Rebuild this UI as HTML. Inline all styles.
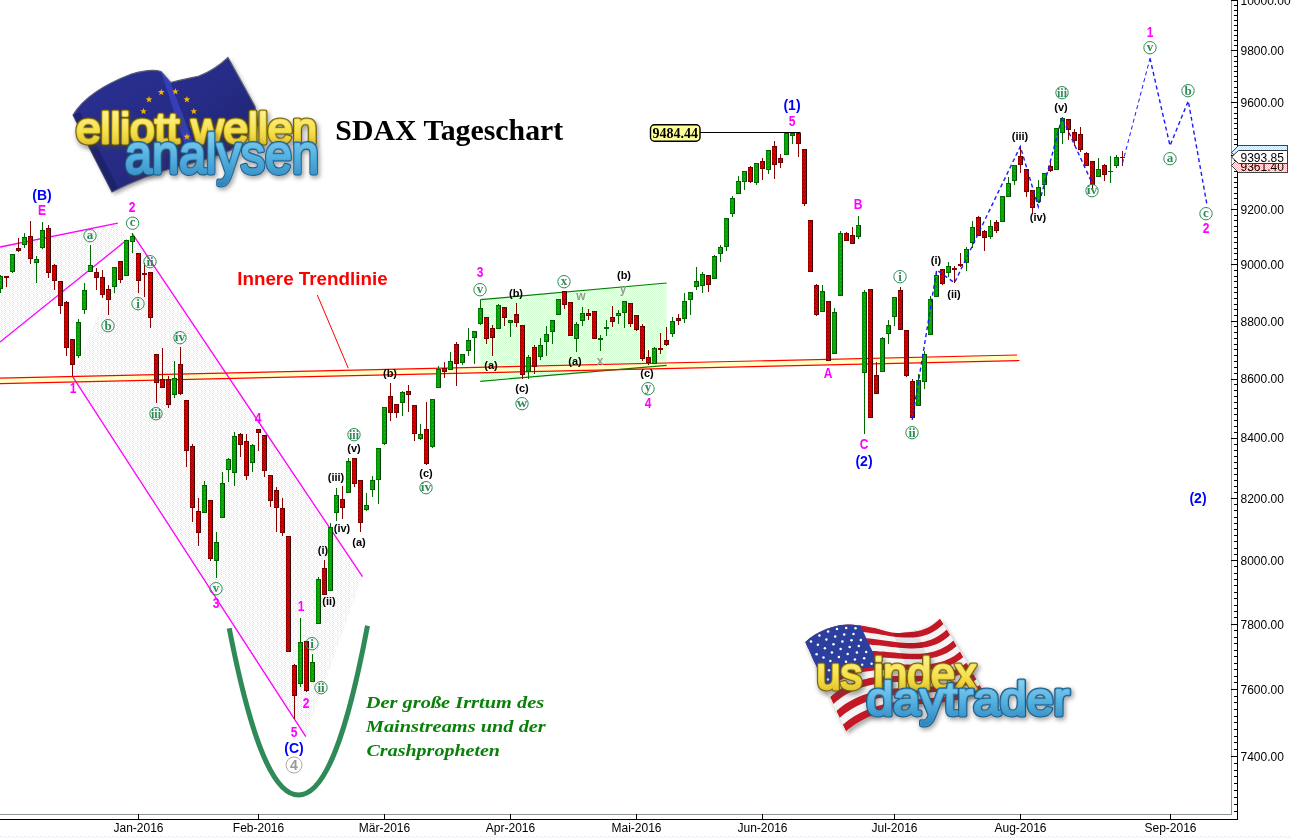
<!DOCTYPE html><html><head><meta charset="utf-8"><title>SDAX Tageschart</title><style>html,body{margin:0;padding:0;background:#fff;}body{width:1291px;height:839px;overflow:hidden;}svg{display:block;}text{font-family:"Liberation Sans",sans-serif;}.ser{font-family:"Liberation Serif",serif;}</style></head><body>
<svg width="1291" height="839" viewBox="0 0 1291 839">
<defs>
<pattern id="pk" width="8" height="8" patternUnits="userSpaceOnUse" shape-rendering="crispEdges"><rect width="8" height="8" fill="#fff"/><rect x="1" y="0" width="1" height="1" fill="#ffd8ff"/><rect x="5" y="0" width="1" height="1" fill="#ffd8ff"/><rect x="2" y="1" width="1" height="1" fill="#ffd8ff"/><rect x="4" y="1" width="1" height="1" fill="#ffd8ff"/><rect x="7" y="1" width="1" height="1" fill="#ffd8ff"/><rect x="1" y="2" width="1" height="1" fill="#ffd8ff"/><rect x="5" y="2" width="1" height="1" fill="#ffd8ff"/><rect x="0" y="3" width="1" height="1" fill="#ffd8ff"/><rect x="3" y="3" width="1" height="1" fill="#ffd8ff"/><rect x="7" y="3" width="1" height="1" fill="#ffd8ff"/><rect x="1" y="4" width="1" height="1" fill="#ffd8ff"/><rect x="5" y="4" width="1" height="1" fill="#ffd8ff"/><rect x="2" y="5" width="1" height="1" fill="#ffd8ff"/><rect x="4" y="5" width="1" height="1" fill="#ffd8ff"/><rect x="7" y="5" width="1" height="1" fill="#ffd8ff"/><rect x="1" y="6" width="1" height="1" fill="#ffd8ff"/><rect x="5" y="6" width="1" height="1" fill="#ffd8ff"/><rect x="2" y="7" width="1" height="1" fill="#ffd8ff"/><rect x="6" y="7" width="1" height="1" fill="#ffd8ff"/></pattern>
<pattern id="gr" width="2" height="2" patternUnits="userSpaceOnUse" shape-rendering="crispEdges"><rect width="2" height="2" fill="#fff"/><rect x="0" y="0" width="1" height="1" fill="#d2ffd2"/><rect x="1" y="1" width="1" height="1" fill="#d2ffd2"/></pattern>
<pattern id="yl" width="2" height="2" patternUnits="userSpaceOnUse" shape-rendering="crispEdges"><rect width="2" height="2" fill="#fff"/><rect x="0" y="0" width="1" height="1" fill="#ffffc0"/><rect x="1" y="1" width="1" height="1" fill="#ffffc0"/></pattern>
<pattern id="bl" width="2" height="2" patternUnits="userSpaceOnUse" shape-rendering="crispEdges"><rect width="2" height="2" fill="#fff"/><rect x="0" y="0" width="1" height="1" fill="#c0e0ff"/><rect x="1" y="1" width="1" height="1" fill="#c0e0ff"/></pattern>
<pattern id="rd" width="2" height="2" patternUnits="userSpaceOnUse" shape-rendering="crispEdges"><rect width="2" height="2" fill="#fff"/><rect x="0" y="0" width="1" height="1" fill="#ffb0b0"/><rect x="1" y="1" width="1" height="1" fill="#ffb0b0"/></pattern>
<pattern id="cr" width="4" height="4" patternUnits="userSpaceOnUse"><rect width="4" height="4" fill="#dc0000"/><rect x="0" y="0" width="1" height="1" fill="#8c0000"/><rect x="2" y="1" width="1" height="1" fill="#8c0000"/><rect x="1" y="2" width="1" height="1" fill="#8c0000"/><rect x="3" y="3" width="1" height="1" fill="#8c0000"/></pattern>
<pattern id="cg" width="4" height="4" patternUnits="userSpaceOnUse"><rect width="4" height="4" fill="#00a800"/><rect x="0" y="0" width="1" height="1" fill="#2cb82c"/><rect x="2" y="2" width="1" height="1" fill="#2cb82c"/></pattern>
<pattern id="bt" width="4" height="4" patternUnits="userSpaceOnUse" shape-rendering="crispEdges"><rect width="4" height="4" fill="#fff"/><rect x="0" y="0" width="1" height="1" fill="#d8e0f0"/><rect x="2" y="1" width="1" height="1" fill="#d8e0f0"/></pattern>
<linearGradient id="euf" x1="0" y1="0" x2="1" y2="1"><stop offset="0" stop-color="#2b3194"/><stop offset="0.5" stop-color="#262b86"/><stop offset="1" stop-color="#1d2168"/></linearGradient>
<linearGradient id="ylw" x1="0" y1="0" x2="0" y2="1"><stop offset="0" stop-color="#fff7a8"/><stop offset="0.55" stop-color="#f6e14e"/><stop offset="1" stop-color="#d9b820"/></linearGradient>
<linearGradient id="blu" x1="0" y1="0" x2="0" y2="1"><stop offset="0" stop-color="#9fdcf4"/><stop offset="0.55" stop-color="#56b2e0"/><stop offset="1" stop-color="#2f86bd"/></linearGradient>
<filter id="sh" x="-10%" y="-10%" width="125%" height="130%"><feGaussianBlur stdDeviation="2"/></filter>
<clipPath id="usclip"><path id="usp" d="M805,642 C818,630 840,622 860,624.5 C878,627 888,634 900,633 C918,631 930,624 940,618.5 L962,653.5 L983,690.5 C965,700 945,704 925,704 C905,704 895,708 883,711.5 C868,716 855,724 846,731.5 L825,688 Z"/></clipPath>
</defs>
<rect width="1291" height="839" fill="#fff"/>
<polygon points="0,247 117.8,223.2 127,239.8 0,342" fill="url(#pk)"/>
<polygon points="132,233.2 362.5,576.7 305.8,736.7 72.5,376.3" fill="url(#pk)"/>
<polygon points="480.3,299.7 666.7,283 666.7,365.3 480.3,381.3" fill="url(#gr)"/>
<polygon points="0,378.2 1017,355 1019.5,360.5 0,383.7" fill="url(#yl)"/>
<g shape-rendering="crispEdges">
<rect x="0" y="814" width="1232" height="1" fill="#909a90"/><rect x="1231" y="0" width="1" height="815" fill="#909a90"/>
<rect x="0" y="819" width="1238" height="1" fill="#000"/><rect x="1237" y="0" width="1" height="820" fill="#000"/>
<rect x="1234" y="811" width="3" height="1" fill="#000"/>
<rect x="1234" y="804" width="3" height="1" fill="#000"/>
<rect x="1234" y="797" width="3" height="1" fill="#000"/>
<rect x="1234" y="790" width="3" height="1" fill="#000"/>
<rect x="1234" y="783" width="3" height="1" fill="#000"/>
<rect x="1234" y="776" width="3" height="1" fill="#000"/>
<rect x="1234" y="770" width="3" height="1" fill="#000"/>
<rect x="1234" y="763" width="3" height="1" fill="#000"/>
<rect x="1231" y="756" width="6" height="1" fill="#000"/>
<rect x="1234" y="749" width="3" height="1" fill="#000"/>
<rect x="1234" y="742" width="3" height="1" fill="#000"/>
<rect x="1234" y="736" width="3" height="1" fill="#000"/>
<rect x="1234" y="729" width="3" height="1" fill="#000"/>
<rect x="1234" y="722" width="3" height="1" fill="#000"/>
<rect x="1234" y="716" width="3" height="1" fill="#000"/>
<rect x="1234" y="709" width="3" height="1" fill="#000"/>
<rect x="1234" y="702" width="3" height="1" fill="#000"/>
<rect x="1234" y="696" width="3" height="1" fill="#000"/>
<rect x="1231" y="689" width="6" height="1" fill="#000"/>
<rect x="1234" y="682" width="3" height="1" fill="#000"/>
<rect x="1234" y="676" width="3" height="1" fill="#000"/>
<rect x="1234" y="669" width="3" height="1" fill="#000"/>
<rect x="1234" y="663" width="3" height="1" fill="#000"/>
<rect x="1234" y="656" width="3" height="1" fill="#000"/>
<rect x="1234" y="650" width="3" height="1" fill="#000"/>
<rect x="1234" y="643" width="3" height="1" fill="#000"/>
<rect x="1234" y="637" width="3" height="1" fill="#000"/>
<rect x="1234" y="630" width="3" height="1" fill="#000"/>
<rect x="1231" y="624" width="6" height="1" fill="#000"/>
<rect x="1234" y="617" width="3" height="1" fill="#000"/>
<rect x="1234" y="611" width="3" height="1" fill="#000"/>
<rect x="1234" y="605" width="3" height="1" fill="#000"/>
<rect x="1234" y="598" width="3" height="1" fill="#000"/>
<rect x="1234" y="592" width="3" height="1" fill="#000"/>
<rect x="1234" y="585" width="3" height="1" fill="#000"/>
<rect x="1234" y="579" width="3" height="1" fill="#000"/>
<rect x="1234" y="573" width="3" height="1" fill="#000"/>
<rect x="1234" y="566" width="3" height="1" fill="#000"/>
<rect x="1231" y="560" width="6" height="1" fill="#000"/>
<rect x="1234" y="554" width="3" height="1" fill="#000"/>
<rect x="1234" y="548" width="3" height="1" fill="#000"/>
<rect x="1234" y="541" width="3" height="1" fill="#000"/>
<rect x="1234" y="535" width="3" height="1" fill="#000"/>
<rect x="1234" y="529" width="3" height="1" fill="#000"/>
<rect x="1234" y="523" width="3" height="1" fill="#000"/>
<rect x="1234" y="517" width="3" height="1" fill="#000"/>
<rect x="1234" y="510" width="3" height="1" fill="#000"/>
<rect x="1234" y="504" width="3" height="1" fill="#000"/>
<rect x="1231" y="498" width="6" height="1" fill="#000"/>
<rect x="1234" y="492" width="3" height="1" fill="#000"/>
<rect x="1234" y="486" width="3" height="1" fill="#000"/>
<rect x="1234" y="480" width="3" height="1" fill="#000"/>
<rect x="1234" y="474" width="3" height="1" fill="#000"/>
<rect x="1234" y="468" width="3" height="1" fill="#000"/>
<rect x="1234" y="462" width="3" height="1" fill="#000"/>
<rect x="1234" y="456" width="3" height="1" fill="#000"/>
<rect x="1234" y="450" width="3" height="1" fill="#000"/>
<rect x="1234" y="444" width="3" height="1" fill="#000"/>
<rect x="1231" y="438" width="6" height="1" fill="#000"/>
<rect x="1234" y="432" width="3" height="1" fill="#000"/>
<rect x="1234" y="426" width="3" height="1" fill="#000"/>
<rect x="1234" y="420" width="3" height="1" fill="#000"/>
<rect x="1234" y="414" width="3" height="1" fill="#000"/>
<rect x="1234" y="408" width="3" height="1" fill="#000"/>
<rect x="1234" y="402" width="3" height="1" fill="#000"/>
<rect x="1234" y="396" width="3" height="1" fill="#000"/>
<rect x="1234" y="390" width="3" height="1" fill="#000"/>
<rect x="1234" y="384" width="3" height="1" fill="#000"/>
<rect x="1231" y="379" width="6" height="1" fill="#000"/>
<rect x="1234" y="373" width="3" height="1" fill="#000"/>
<rect x="1234" y="367" width="3" height="1" fill="#000"/>
<rect x="1234" y="361" width="3" height="1" fill="#000"/>
<rect x="1234" y="355" width="3" height="1" fill="#000"/>
<rect x="1234" y="349" width="3" height="1" fill="#000"/>
<rect x="1234" y="344" width="3" height="1" fill="#000"/>
<rect x="1234" y="338" width="3" height="1" fill="#000"/>
<rect x="1234" y="332" width="3" height="1" fill="#000"/>
<rect x="1234" y="326" width="3" height="1" fill="#000"/>
<rect x="1231" y="321" width="6" height="1" fill="#000"/>
<rect x="1234" y="315" width="3" height="1" fill="#000"/>
<rect x="1234" y="309" width="3" height="1" fill="#000"/>
<rect x="1234" y="304" width="3" height="1" fill="#000"/>
<rect x="1234" y="298" width="3" height="1" fill="#000"/>
<rect x="1234" y="292" width="3" height="1" fill="#000"/>
<rect x="1234" y="287" width="3" height="1" fill="#000"/>
<rect x="1234" y="281" width="3" height="1" fill="#000"/>
<rect x="1234" y="276" width="3" height="1" fill="#000"/>
<rect x="1234" y="270" width="3" height="1" fill="#000"/>
<rect x="1231" y="264" width="6" height="1" fill="#000"/>
<rect x="1234" y="259" width="3" height="1" fill="#000"/>
<rect x="1234" y="253" width="3" height="1" fill="#000"/>
<rect x="1234" y="248" width="3" height="1" fill="#000"/>
<rect x="1234" y="242" width="3" height="1" fill="#000"/>
<rect x="1234" y="237" width="3" height="1" fill="#000"/>
<rect x="1234" y="231" width="3" height="1" fill="#000"/>
<rect x="1234" y="226" width="3" height="1" fill="#000"/>
<rect x="1234" y="220" width="3" height="1" fill="#000"/>
<rect x="1234" y="215" width="3" height="1" fill="#000"/>
<rect x="1231" y="209" width="6" height="1" fill="#000"/>
<rect x="1234" y="204" width="3" height="1" fill="#000"/>
<rect x="1234" y="198" width="3" height="1" fill="#000"/>
<rect x="1234" y="193" width="3" height="1" fill="#000"/>
<rect x="1234" y="187" width="3" height="1" fill="#000"/>
<rect x="1234" y="182" width="3" height="1" fill="#000"/>
<rect x="1234" y="177" width="3" height="1" fill="#000"/>
<rect x="1234" y="171" width="3" height="1" fill="#000"/>
<rect x="1234" y="166" width="3" height="1" fill="#000"/>
<rect x="1234" y="160" width="3" height="1" fill="#000"/>
<rect x="1231" y="155" width="6" height="1" fill="#000"/>
<rect x="1234" y="150" width="3" height="1" fill="#000"/>
<rect x="1234" y="144" width="3" height="1" fill="#000"/>
<rect x="1234" y="139" width="3" height="1" fill="#000"/>
<rect x="1234" y="134" width="3" height="1" fill="#000"/>
<rect x="1234" y="128" width="3" height="1" fill="#000"/>
<rect x="1234" y="123" width="3" height="1" fill="#000"/>
<rect x="1234" y="118" width="3" height="1" fill="#000"/>
<rect x="1234" y="113" width="3" height="1" fill="#000"/>
<rect x="1234" y="107" width="3" height="1" fill="#000"/>
<rect x="1231" y="102" width="6" height="1" fill="#000"/>
<rect x="1234" y="97" width="3" height="1" fill="#000"/>
<rect x="1234" y="92" width="3" height="1" fill="#000"/>
<rect x="1234" y="87" width="3" height="1" fill="#000"/>
<rect x="1234" y="81" width="3" height="1" fill="#000"/>
<rect x="1234" y="76" width="3" height="1" fill="#000"/>
<rect x="1234" y="71" width="3" height="1" fill="#000"/>
<rect x="1234" y="66" width="3" height="1" fill="#000"/>
<rect x="1234" y="61" width="3" height="1" fill="#000"/>
<rect x="1234" y="56" width="3" height="1" fill="#000"/>
<rect x="1231" y="50" width="6" height="1" fill="#000"/>
<rect x="1234" y="45" width="3" height="1" fill="#000"/>
<rect x="1234" y="40" width="3" height="1" fill="#000"/>
<rect x="1234" y="35" width="3" height="1" fill="#000"/>
<rect x="1234" y="30" width="3" height="1" fill="#000"/>
<rect x="1234" y="25" width="3" height="1" fill="#000"/>
<rect x="1234" y="20" width="3" height="1" fill="#000"/>
<rect x="1234" y="15" width="3" height="1" fill="#000"/>
<rect x="1234" y="10" width="3" height="1" fill="#000"/>
<rect x="1234" y="5" width="3" height="1" fill="#000"/>
<rect x="1231" y="0" width="6" height="1" fill="#000"/>
<rect x="138" y="814" width="1" height="6" fill="#000"/>
<rect x="258" y="814" width="1" height="6" fill="#000"/>
<rect x="384" y="814" width="1" height="6" fill="#000"/>
<rect x="510" y="814" width="1" height="6" fill="#000"/>
<rect x="636" y="814" width="1" height="6" fill="#000"/>
<rect x="762" y="814" width="1" height="6" fill="#000"/>
<rect x="894" y="814" width="1" height="6" fill="#000"/>
<rect x="1020" y="814" width="1" height="6" fill="#000"/>
<rect x="1170" y="814" width="1" height="6" fill="#000"/>
</g>
<text x="1240.5" y="760.8" font-size="12" fill="#000">7400.00</text>
<text x="1240.5" y="693.8" font-size="12" fill="#000">7600.00</text>
<text x="1240.5" y="628.6" font-size="12" fill="#000">7800.00</text>
<text x="1240.5" y="565.0" font-size="12" fill="#000">8000.00</text>
<text x="1240.5" y="503.0" font-size="12" fill="#000">8200.00</text>
<text x="1240.5" y="442.4" font-size="12" fill="#000">8400.00</text>
<text x="1240.5" y="383.3" font-size="12" fill="#000">8600.00</text>
<text x="1240.5" y="325.6" font-size="12" fill="#000">8800.00</text>
<text x="1240.5" y="269.1" font-size="12" fill="#000">9000.00</text>
<text x="1240.5" y="213.9" font-size="12" fill="#000">9200.00</text>
<text x="1240.5" y="107.0" font-size="12" fill="#000">9600.00</text>
<text x="1240.5" y="55.2" font-size="12" fill="#000">9800.00</text>
<text x="1240.5" y="4.5" font-size="12" fill="#000">10000.00</text>
<text x="138.5" y="832" font-size="12" text-anchor="middle" fill="#000">Jan-2016</text>
<text x="258.5" y="832" font-size="12" text-anchor="middle" fill="#000">Feb-2016</text>
<text x="384.5" y="832" font-size="12" text-anchor="middle" fill="#000">Mär-2016</text>
<text x="510.5" y="832" font-size="12" text-anchor="middle" fill="#000">Apr-2016</text>
<text x="636.5" y="832" font-size="12" text-anchor="middle" fill="#000">Mai-2016</text>
<text x="762.5" y="832" font-size="12" text-anchor="middle" fill="#000">Jun-2016</text>
<text x="894.5" y="832" font-size="12" text-anchor="middle" fill="#000">Jul-2016</text>
<text x="1020.5" y="832" font-size="12" text-anchor="middle" fill="#000">Aug-2016</text>
<text x="1170.5" y="832" font-size="12" text-anchor="middle" fill="#000">Sep-2016</text>
<rect x="0" y="836" width="1291" height="3" fill="url(#bt)"/>
<g fill="none" stroke="#ff00ff" stroke-width="1.3">
<line x1="0" y1="247" x2="117.8" y2="223.2"/><line x1="0" y1="342" x2="127" y2="239.8"/>
<line x1="132" y1="233.2" x2="362.5" y2="576.7"/><line x1="72.5" y1="376.3" x2="305.8" y2="736.7"/>
</g>
<g fill="none" stroke="#008000" stroke-width="1.2"><line x1="480.3" y1="299.7" x2="666.7" y2="283"/><line x1="480.3" y1="381.3" x2="666.7" y2="365.3"/></g>
<g fill="none" stroke="#ff0000" stroke-width="1.2"><line x1="0" y1="378.2" x2="1017" y2="355"/><line x1="0" y1="383.7" x2="1019.5" y2="360.5"/><line x1="317.3" y1="295" x2="348.3" y2="368.3" stroke-width="1"/></g>
<line x1="700" y1="132.5" x2="800.5" y2="132.5" stroke="#000" stroke-width="1"/>
<g shape-rendering="crispEdges">
<rect x="0" y="275" width="1" height="18" fill="#006a00"/>
<rect x="0" y="276" width="3" height="13" fill="url(#cg)"/>
<rect x="2" y="276" width="1" height="13" fill="#003c00"/>
<rect x="0" y="276" width="3" height="1" fill="#006200"/>
<rect x="0" y="288" width="3" height="1" fill="#006200"/>
<rect x="6" y="276" width="1" height="11" fill="#8a0000"/>
<rect x="4" y="276" width="5" height="2" fill="url(#cr)"/>
<rect x="4" y="276" width="5" height="2" fill="#8a0000"/>
<rect x="12" y="254" width="1" height="19" fill="#006a00"/>
<rect x="10" y="254" width="5" height="18" fill="url(#cg)"/>
<rect x="10" y="254" width="1" height="18" fill="#008a00"/>
<rect x="14" y="254" width="1" height="18" fill="#003c00"/>
<rect x="10" y="254" width="5" height="1" fill="#006200"/>
<rect x="10" y="271" width="5" height="1" fill="#006200"/>
<rect x="18" y="238" width="1" height="14" fill="#8a0000"/>
<rect x="16" y="248" width="5" height="3" fill="url(#cr)"/>
<rect x="16" y="248" width="1" height="3" fill="#a00000"/>
<rect x="20" y="248" width="1" height="3" fill="#3c0000"/>
<rect x="16" y="248" width="5" height="1" fill="#6a0000"/>
<rect x="16" y="250" width="5" height="1" fill="#6a0000"/>
<rect x="24" y="233" width="1" height="15" fill="#006a00"/>
<rect x="22" y="237" width="5" height="8" fill="url(#cg)"/>
<rect x="22" y="237" width="1" height="8" fill="#008a00"/>
<rect x="26" y="237" width="1" height="8" fill="#003c00"/>
<rect x="22" y="237" width="5" height="1" fill="#006200"/>
<rect x="22" y="244" width="5" height="1" fill="#006200"/>
<rect x="30" y="221" width="1" height="43" fill="#8a0000"/>
<rect x="28" y="236" width="5" height="23" fill="url(#cr)"/>
<rect x="28" y="236" width="1" height="23" fill="#a00000"/>
<rect x="32" y="236" width="1" height="23" fill="#3c0000"/>
<rect x="28" y="236" width="5" height="1" fill="#6a0000"/>
<rect x="28" y="258" width="5" height="1" fill="#6a0000"/>
<rect x="36" y="256" width="1" height="27" fill="#006a00"/>
<rect x="34" y="259" width="5" height="4" fill="url(#cg)"/>
<rect x="34" y="259" width="1" height="4" fill="#008a00"/>
<rect x="38" y="259" width="1" height="4" fill="#003c00"/>
<rect x="34" y="259" width="5" height="1" fill="#006200"/>
<rect x="34" y="262" width="5" height="1" fill="#006200"/>
<rect x="42" y="222" width="1" height="27" fill="#006a00"/>
<rect x="40" y="230" width="5" height="18" fill="url(#cg)"/>
<rect x="40" y="230" width="1" height="18" fill="#008a00"/>
<rect x="44" y="230" width="1" height="18" fill="#003c00"/>
<rect x="40" y="230" width="5" height="1" fill="#006200"/>
<rect x="40" y="247" width="5" height="1" fill="#006200"/>
<rect x="48" y="225" width="1" height="53" fill="#8a0000"/>
<rect x="46" y="228" width="5" height="45" fill="url(#cr)"/>
<rect x="46" y="228" width="1" height="45" fill="#a00000"/>
<rect x="50" y="228" width="1" height="45" fill="#3c0000"/>
<rect x="46" y="228" width="5" height="1" fill="#6a0000"/>
<rect x="46" y="272" width="5" height="1" fill="#6a0000"/>
<rect x="54" y="264" width="1" height="26" fill="#8a0000"/>
<rect x="52" y="265" width="5" height="16" fill="url(#cr)"/>
<rect x="52" y="265" width="1" height="16" fill="#a00000"/>
<rect x="56" y="265" width="1" height="16" fill="#3c0000"/>
<rect x="52" y="265" width="5" height="1" fill="#6a0000"/>
<rect x="52" y="280" width="5" height="1" fill="#6a0000"/>
<rect x="60" y="281" width="1" height="33" fill="#8a0000"/>
<rect x="58" y="281" width="5" height="25" fill="url(#cr)"/>
<rect x="58" y="281" width="1" height="25" fill="#a00000"/>
<rect x="62" y="281" width="1" height="25" fill="#3c0000"/>
<rect x="58" y="281" width="5" height="1" fill="#6a0000"/>
<rect x="58" y="305" width="5" height="1" fill="#6a0000"/>
<rect x="66" y="301" width="1" height="55" fill="#8a0000"/>
<rect x="64" y="302" width="5" height="46" fill="url(#cr)"/>
<rect x="64" y="302" width="1" height="46" fill="#a00000"/>
<rect x="68" y="302" width="1" height="46" fill="#3c0000"/>
<rect x="64" y="302" width="5" height="1" fill="#6a0000"/>
<rect x="64" y="347" width="5" height="1" fill="#6a0000"/>
<rect x="72" y="339" width="1" height="37" fill="#8a0000"/>
<rect x="70" y="339" width="5" height="26" fill="url(#cr)"/>
<rect x="70" y="339" width="1" height="26" fill="#a00000"/>
<rect x="74" y="339" width="1" height="26" fill="#3c0000"/>
<rect x="70" y="339" width="5" height="1" fill="#6a0000"/>
<rect x="70" y="364" width="5" height="1" fill="#6a0000"/>
<rect x="78" y="319" width="1" height="39" fill="#006a00"/>
<rect x="76" y="322" width="5" height="34" fill="url(#cg)"/>
<rect x="76" y="322" width="1" height="34" fill="#008a00"/>
<rect x="80" y="322" width="1" height="34" fill="#003c00"/>
<rect x="76" y="322" width="5" height="1" fill="#006200"/>
<rect x="76" y="355" width="5" height="1" fill="#006200"/>
<rect x="84" y="283" width="1" height="31" fill="#006a00"/>
<rect x="82" y="290" width="5" height="20" fill="url(#cg)"/>
<rect x="82" y="290" width="1" height="20" fill="#008a00"/>
<rect x="86" y="290" width="1" height="20" fill="#003c00"/>
<rect x="82" y="290" width="5" height="1" fill="#006200"/>
<rect x="82" y="309" width="5" height="1" fill="#006200"/>
<rect x="90" y="245" width="1" height="27" fill="#006a00"/>
<rect x="88" y="265" width="5" height="7" fill="url(#cg)"/>
<rect x="88" y="265" width="1" height="7" fill="#008a00"/>
<rect x="92" y="265" width="1" height="7" fill="#003c00"/>
<rect x="88" y="265" width="5" height="1" fill="#006200"/>
<rect x="88" y="271" width="5" height="1" fill="#006200"/>
<rect x="96" y="268" width="1" height="22" fill="#8a0000"/>
<rect x="94" y="272" width="5" height="6" fill="url(#cr)"/>
<rect x="94" y="272" width="1" height="6" fill="#a00000"/>
<rect x="98" y="272" width="1" height="6" fill="#3c0000"/>
<rect x="94" y="272" width="5" height="1" fill="#6a0000"/>
<rect x="94" y="277" width="5" height="1" fill="#6a0000"/>
<rect x="102" y="270" width="1" height="28" fill="#8a0000"/>
<rect x="100" y="277" width="5" height="18" fill="url(#cr)"/>
<rect x="100" y="277" width="1" height="18" fill="#a00000"/>
<rect x="104" y="277" width="1" height="18" fill="#3c0000"/>
<rect x="100" y="277" width="5" height="1" fill="#6a0000"/>
<rect x="100" y="294" width="5" height="1" fill="#6a0000"/>
<rect x="108" y="285" width="1" height="30" fill="#8a0000"/>
<rect x="106" y="289" width="5" height="11" fill="url(#cr)"/>
<rect x="106" y="289" width="1" height="11" fill="#a00000"/>
<rect x="110" y="289" width="1" height="11" fill="#3c0000"/>
<rect x="106" y="289" width="5" height="1" fill="#6a0000"/>
<rect x="106" y="299" width="5" height="1" fill="#6a0000"/>
<rect x="114" y="267" width="1" height="26" fill="#006a00"/>
<rect x="112" y="267" width="5" height="20" fill="url(#cg)"/>
<rect x="112" y="267" width="1" height="20" fill="#008a00"/>
<rect x="116" y="267" width="1" height="20" fill="#003c00"/>
<rect x="112" y="267" width="5" height="1" fill="#006200"/>
<rect x="112" y="286" width="5" height="1" fill="#006200"/>
<rect x="120" y="261" width="1" height="22" fill="#8a0000"/>
<rect x="118" y="261" width="5" height="19" fill="url(#cr)"/>
<rect x="118" y="261" width="1" height="19" fill="#a00000"/>
<rect x="122" y="261" width="1" height="19" fill="#3c0000"/>
<rect x="118" y="261" width="5" height="1" fill="#6a0000"/>
<rect x="118" y="279" width="5" height="1" fill="#6a0000"/>
<rect x="126" y="240" width="1" height="36" fill="#006a00"/>
<rect x="124" y="240" width="5" height="36" fill="url(#cg)"/>
<rect x="124" y="240" width="1" height="36" fill="#008a00"/>
<rect x="128" y="240" width="1" height="36" fill="#003c00"/>
<rect x="124" y="240" width="5" height="1" fill="#006200"/>
<rect x="124" y="275" width="5" height="1" fill="#006200"/>
<rect x="132" y="233" width="1" height="20" fill="#006a00"/>
<rect x="130" y="236" width="5" height="6" fill="url(#cg)"/>
<rect x="130" y="236" width="1" height="6" fill="#008a00"/>
<rect x="134" y="236" width="1" height="6" fill="#003c00"/>
<rect x="130" y="236" width="5" height="1" fill="#006200"/>
<rect x="130" y="241" width="5" height="1" fill="#006200"/>
<rect x="138" y="253" width="1" height="40" fill="#8a0000"/>
<rect x="136" y="253" width="5" height="28" fill="url(#cr)"/>
<rect x="136" y="253" width="1" height="28" fill="#a00000"/>
<rect x="140" y="253" width="1" height="28" fill="#3c0000"/>
<rect x="136" y="253" width="5" height="1" fill="#6a0000"/>
<rect x="136" y="280" width="5" height="1" fill="#6a0000"/>
<rect x="144" y="263" width="1" height="34" fill="#8a0000"/>
<rect x="142" y="273" width="5" height="2" fill="url(#cr)"/>
<rect x="142" y="273" width="5" height="2" fill="#8a0000"/>
<rect x="150" y="272" width="1" height="56" fill="#8a0000"/>
<rect x="148" y="272" width="5" height="46" fill="url(#cr)"/>
<rect x="148" y="272" width="1" height="46" fill="#a00000"/>
<rect x="152" y="272" width="1" height="46" fill="#3c0000"/>
<rect x="148" y="272" width="5" height="1" fill="#6a0000"/>
<rect x="148" y="317" width="5" height="1" fill="#6a0000"/>
<rect x="156" y="354" width="1" height="49" fill="#8a0000"/>
<rect x="154" y="354" width="5" height="29" fill="url(#cr)"/>
<rect x="154" y="354" width="1" height="29" fill="#a00000"/>
<rect x="158" y="354" width="1" height="29" fill="#3c0000"/>
<rect x="154" y="354" width="5" height="1" fill="#6a0000"/>
<rect x="154" y="382" width="5" height="1" fill="#6a0000"/>
<rect x="162" y="348" width="1" height="40" fill="#8a0000"/>
<rect x="160" y="379" width="5" height="9" fill="url(#cr)"/>
<rect x="160" y="379" width="1" height="9" fill="#a00000"/>
<rect x="164" y="379" width="1" height="9" fill="#3c0000"/>
<rect x="160" y="379" width="5" height="1" fill="#6a0000"/>
<rect x="160" y="387" width="5" height="1" fill="#6a0000"/>
<rect x="168" y="376" width="1" height="32" fill="#8a0000"/>
<rect x="166" y="379" width="5" height="26" fill="url(#cr)"/>
<rect x="166" y="379" width="1" height="26" fill="#a00000"/>
<rect x="170" y="379" width="1" height="26" fill="#3c0000"/>
<rect x="166" y="379" width="5" height="1" fill="#6a0000"/>
<rect x="166" y="404" width="5" height="1" fill="#6a0000"/>
<rect x="174" y="361" width="1" height="37" fill="#006a00"/>
<rect x="172" y="378" width="5" height="17" fill="url(#cg)"/>
<rect x="172" y="378" width="1" height="17" fill="#008a00"/>
<rect x="176" y="378" width="1" height="17" fill="#003c00"/>
<rect x="172" y="378" width="5" height="1" fill="#006200"/>
<rect x="172" y="394" width="5" height="1" fill="#006200"/>
<rect x="180" y="347" width="1" height="48" fill="#8a0000"/>
<rect x="178" y="364" width="5" height="30" fill="url(#cr)"/>
<rect x="178" y="364" width="1" height="30" fill="#a00000"/>
<rect x="182" y="364" width="1" height="30" fill="#3c0000"/>
<rect x="178" y="364" width="5" height="1" fill="#6a0000"/>
<rect x="178" y="393" width="5" height="1" fill="#6a0000"/>
<rect x="186" y="400" width="1" height="67" fill="#8a0000"/>
<rect x="184" y="400" width="5" height="51" fill="url(#cr)"/>
<rect x="184" y="400" width="1" height="51" fill="#a00000"/>
<rect x="188" y="400" width="1" height="51" fill="#3c0000"/>
<rect x="184" y="400" width="5" height="1" fill="#6a0000"/>
<rect x="184" y="450" width="5" height="1" fill="#6a0000"/>
<rect x="192" y="444" width="1" height="78" fill="#8a0000"/>
<rect x="190" y="446" width="5" height="62" fill="url(#cr)"/>
<rect x="190" y="446" width="1" height="62" fill="#a00000"/>
<rect x="194" y="446" width="1" height="62" fill="#3c0000"/>
<rect x="190" y="446" width="5" height="1" fill="#6a0000"/>
<rect x="190" y="507" width="5" height="1" fill="#6a0000"/>
<rect x="198" y="498" width="1" height="48" fill="#8a0000"/>
<rect x="196" y="511" width="5" height="22" fill="url(#cr)"/>
<rect x="196" y="511" width="1" height="22" fill="#a00000"/>
<rect x="200" y="511" width="1" height="22" fill="#3c0000"/>
<rect x="196" y="511" width="5" height="1" fill="#6a0000"/>
<rect x="196" y="532" width="5" height="1" fill="#6a0000"/>
<rect x="204" y="481" width="1" height="32" fill="#006a00"/>
<rect x="202" y="485" width="5" height="28" fill="url(#cg)"/>
<rect x="202" y="485" width="1" height="28" fill="#008a00"/>
<rect x="206" y="485" width="1" height="28" fill="#003c00"/>
<rect x="202" y="485" width="5" height="1" fill="#006200"/>
<rect x="202" y="512" width="5" height="1" fill="#006200"/>
<rect x="210" y="500" width="1" height="61" fill="#8a0000"/>
<rect x="208" y="500" width="5" height="59" fill="url(#cr)"/>
<rect x="208" y="500" width="1" height="59" fill="#a00000"/>
<rect x="212" y="500" width="1" height="59" fill="#3c0000"/>
<rect x="208" y="500" width="5" height="1" fill="#6a0000"/>
<rect x="208" y="558" width="5" height="1" fill="#6a0000"/>
<rect x="216" y="532" width="1" height="46" fill="#006a00"/>
<rect x="214" y="542" width="5" height="19" fill="url(#cg)"/>
<rect x="214" y="542" width="1" height="19" fill="#008a00"/>
<rect x="218" y="542" width="1" height="19" fill="#003c00"/>
<rect x="214" y="542" width="5" height="1" fill="#006200"/>
<rect x="214" y="560" width="5" height="1" fill="#006200"/>
<rect x="222" y="472" width="1" height="46" fill="#006a00"/>
<rect x="220" y="483" width="5" height="35" fill="url(#cg)"/>
<rect x="220" y="483" width="1" height="35" fill="#008a00"/>
<rect x="224" y="483" width="1" height="35" fill="#003c00"/>
<rect x="220" y="483" width="5" height="1" fill="#006200"/>
<rect x="220" y="517" width="5" height="1" fill="#006200"/>
<rect x="228" y="458" width="1" height="24" fill="#006a00"/>
<rect x="226" y="459" width="5" height="11" fill="url(#cg)"/>
<rect x="226" y="459" width="1" height="11" fill="#008a00"/>
<rect x="230" y="459" width="1" height="11" fill="#003c00"/>
<rect x="226" y="459" width="5" height="1" fill="#006200"/>
<rect x="226" y="469" width="5" height="1" fill="#006200"/>
<rect x="234" y="432" width="1" height="54" fill="#006a00"/>
<rect x="232" y="436" width="5" height="37" fill="url(#cg)"/>
<rect x="232" y="436" width="1" height="37" fill="#008a00"/>
<rect x="236" y="436" width="1" height="37" fill="#003c00"/>
<rect x="232" y="436" width="5" height="1" fill="#006200"/>
<rect x="232" y="472" width="5" height="1" fill="#006200"/>
<rect x="240" y="433" width="1" height="24" fill="#8a0000"/>
<rect x="238" y="434" width="5" height="11" fill="url(#cr)"/>
<rect x="238" y="434" width="1" height="11" fill="#a00000"/>
<rect x="242" y="434" width="1" height="11" fill="#3c0000"/>
<rect x="238" y="434" width="5" height="1" fill="#6a0000"/>
<rect x="238" y="444" width="5" height="1" fill="#6a0000"/>
<rect x="246" y="434" width="1" height="46" fill="#8a0000"/>
<rect x="244" y="441" width="5" height="35" fill="url(#cr)"/>
<rect x="244" y="441" width="1" height="35" fill="#a00000"/>
<rect x="248" y="441" width="1" height="35" fill="#3c0000"/>
<rect x="244" y="441" width="5" height="1" fill="#6a0000"/>
<rect x="244" y="475" width="5" height="1" fill="#6a0000"/>
<rect x="252" y="444" width="1" height="28" fill="#006a00"/>
<rect x="250" y="445" width="5" height="18" fill="url(#cg)"/>
<rect x="250" y="445" width="1" height="18" fill="#008a00"/>
<rect x="254" y="445" width="1" height="18" fill="#003c00"/>
<rect x="250" y="445" width="5" height="1" fill="#006200"/>
<rect x="250" y="462" width="5" height="1" fill="#006200"/>
<rect x="258" y="429" width="1" height="22" fill="#8a0000"/>
<rect x="256" y="429" width="5" height="4" fill="url(#cr)"/>
<rect x="256" y="429" width="1" height="4" fill="#a00000"/>
<rect x="260" y="429" width="1" height="4" fill="#3c0000"/>
<rect x="256" y="429" width="5" height="1" fill="#6a0000"/>
<rect x="256" y="432" width="5" height="1" fill="#6a0000"/>
<rect x="264" y="435" width="1" height="42" fill="#8a0000"/>
<rect x="262" y="435" width="5" height="36" fill="url(#cr)"/>
<rect x="262" y="435" width="1" height="36" fill="#a00000"/>
<rect x="266" y="435" width="1" height="36" fill="#3c0000"/>
<rect x="262" y="435" width="5" height="1" fill="#6a0000"/>
<rect x="262" y="470" width="5" height="1" fill="#6a0000"/>
<rect x="270" y="475" width="1" height="32" fill="#8a0000"/>
<rect x="268" y="475" width="5" height="26" fill="url(#cr)"/>
<rect x="268" y="475" width="1" height="26" fill="#a00000"/>
<rect x="272" y="475" width="1" height="26" fill="#3c0000"/>
<rect x="268" y="475" width="5" height="1" fill="#6a0000"/>
<rect x="268" y="500" width="5" height="1" fill="#6a0000"/>
<rect x="276" y="487" width="1" height="45" fill="#8a0000"/>
<rect x="274" y="490" width="5" height="18" fill="url(#cr)"/>
<rect x="274" y="490" width="1" height="18" fill="#a00000"/>
<rect x="278" y="490" width="1" height="18" fill="#3c0000"/>
<rect x="274" y="490" width="5" height="1" fill="#6a0000"/>
<rect x="274" y="507" width="5" height="1" fill="#6a0000"/>
<rect x="282" y="498" width="1" height="38" fill="#8a0000"/>
<rect x="280" y="508" width="5" height="25" fill="url(#cr)"/>
<rect x="280" y="508" width="1" height="25" fill="#a00000"/>
<rect x="284" y="508" width="1" height="25" fill="#3c0000"/>
<rect x="280" y="508" width="5" height="1" fill="#6a0000"/>
<rect x="280" y="532" width="5" height="1" fill="#6a0000"/>
<rect x="288" y="536" width="1" height="116" fill="#8a0000"/>
<rect x="286" y="536" width="5" height="116" fill="url(#cr)"/>
<rect x="286" y="536" width="1" height="116" fill="#a00000"/>
<rect x="290" y="536" width="1" height="116" fill="#3c0000"/>
<rect x="286" y="536" width="5" height="1" fill="#6a0000"/>
<rect x="286" y="651" width="5" height="1" fill="#6a0000"/>
<rect x="294" y="664" width="1" height="55" fill="#8a0000"/>
<rect x="292" y="665" width="5" height="31" fill="url(#cr)"/>
<rect x="292" y="665" width="1" height="31" fill="#a00000"/>
<rect x="296" y="665" width="1" height="31" fill="#3c0000"/>
<rect x="292" y="665" width="5" height="1" fill="#6a0000"/>
<rect x="292" y="695" width="5" height="1" fill="#6a0000"/>
<rect x="300" y="618" width="1" height="69" fill="#006a00"/>
<rect x="298" y="642" width="5" height="42" fill="url(#cg)"/>
<rect x="298" y="642" width="1" height="42" fill="#008a00"/>
<rect x="302" y="642" width="1" height="42" fill="#003c00"/>
<rect x="298" y="642" width="5" height="1" fill="#006200"/>
<rect x="298" y="683" width="5" height="1" fill="#006200"/>
<rect x="306" y="641" width="1" height="51" fill="#8a0000"/>
<rect x="304" y="641" width="5" height="50" fill="url(#cr)"/>
<rect x="304" y="641" width="1" height="50" fill="#a00000"/>
<rect x="308" y="641" width="1" height="50" fill="#3c0000"/>
<rect x="304" y="641" width="5" height="1" fill="#6a0000"/>
<rect x="304" y="690" width="5" height="1" fill="#6a0000"/>
<rect x="312" y="654" width="1" height="28" fill="#006a00"/>
<rect x="310" y="662" width="5" height="20" fill="url(#cg)"/>
<rect x="310" y="662" width="1" height="20" fill="#008a00"/>
<rect x="314" y="662" width="1" height="20" fill="#003c00"/>
<rect x="310" y="662" width="5" height="1" fill="#006200"/>
<rect x="310" y="681" width="5" height="1" fill="#006200"/>
<rect x="318" y="577" width="1" height="47" fill="#006a00"/>
<rect x="316" y="579" width="5" height="45" fill="url(#cg)"/>
<rect x="316" y="579" width="1" height="45" fill="#008a00"/>
<rect x="320" y="579" width="1" height="45" fill="#003c00"/>
<rect x="316" y="579" width="5" height="1" fill="#006200"/>
<rect x="316" y="623" width="5" height="1" fill="#006200"/>
<rect x="324" y="560" width="1" height="35" fill="#8a0000"/>
<rect x="322" y="568" width="5" height="27" fill="url(#cr)"/>
<rect x="322" y="568" width="1" height="27" fill="#a00000"/>
<rect x="326" y="568" width="1" height="27" fill="#3c0000"/>
<rect x="322" y="568" width="5" height="1" fill="#6a0000"/>
<rect x="322" y="594" width="5" height="1" fill="#6a0000"/>
<rect x="330" y="523" width="1" height="68" fill="#006a00"/>
<rect x="328" y="527" width="5" height="64" fill="url(#cg)"/>
<rect x="328" y="527" width="1" height="64" fill="#008a00"/>
<rect x="332" y="527" width="1" height="64" fill="#003c00"/>
<rect x="328" y="527" width="5" height="1" fill="#006200"/>
<rect x="328" y="590" width="5" height="1" fill="#006200"/>
<rect x="336" y="488" width="1" height="33" fill="#006a00"/>
<rect x="334" y="495" width="5" height="18" fill="url(#cg)"/>
<rect x="334" y="495" width="1" height="18" fill="#008a00"/>
<rect x="338" y="495" width="1" height="18" fill="#003c00"/>
<rect x="334" y="495" width="5" height="1" fill="#006200"/>
<rect x="334" y="512" width="5" height="1" fill="#006200"/>
<rect x="342" y="486" width="1" height="33" fill="#8a0000"/>
<rect x="340" y="499" width="5" height="9" fill="url(#cr)"/>
<rect x="340" y="499" width="1" height="9" fill="#a00000"/>
<rect x="344" y="499" width="1" height="9" fill="#3c0000"/>
<rect x="340" y="499" width="5" height="1" fill="#6a0000"/>
<rect x="340" y="507" width="5" height="1" fill="#6a0000"/>
<rect x="348" y="458" width="1" height="35" fill="#006a00"/>
<rect x="346" y="461" width="5" height="32" fill="url(#cg)"/>
<rect x="346" y="461" width="1" height="32" fill="#008a00"/>
<rect x="350" y="461" width="1" height="32" fill="#003c00"/>
<rect x="346" y="461" width="5" height="1" fill="#006200"/>
<rect x="346" y="492" width="5" height="1" fill="#006200"/>
<rect x="354" y="458" width="1" height="29" fill="#8a0000"/>
<rect x="352" y="458" width="5" height="26" fill="url(#cr)"/>
<rect x="352" y="458" width="1" height="26" fill="#a00000"/>
<rect x="356" y="458" width="1" height="26" fill="#3c0000"/>
<rect x="352" y="458" width="5" height="1" fill="#6a0000"/>
<rect x="352" y="483" width="5" height="1" fill="#6a0000"/>
<rect x="360" y="480" width="1" height="52" fill="#8a0000"/>
<rect x="358" y="480" width="5" height="43" fill="url(#cr)"/>
<rect x="358" y="480" width="1" height="43" fill="#a00000"/>
<rect x="362" y="480" width="1" height="43" fill="#3c0000"/>
<rect x="358" y="480" width="5" height="1" fill="#6a0000"/>
<rect x="358" y="522" width="5" height="1" fill="#6a0000"/>
<rect x="366" y="493" width="1" height="18" fill="#006a00"/>
<rect x="364" y="505" width="5" height="5" fill="url(#cg)"/>
<rect x="364" y="505" width="1" height="5" fill="#008a00"/>
<rect x="368" y="505" width="1" height="5" fill="#003c00"/>
<rect x="364" y="505" width="5" height="1" fill="#006200"/>
<rect x="364" y="509" width="5" height="1" fill="#006200"/>
<rect x="372" y="476" width="1" height="21" fill="#006a00"/>
<rect x="370" y="480" width="5" height="10" fill="url(#cg)"/>
<rect x="370" y="480" width="1" height="10" fill="#008a00"/>
<rect x="374" y="480" width="1" height="10" fill="#003c00"/>
<rect x="370" y="480" width="5" height="1" fill="#006200"/>
<rect x="370" y="489" width="5" height="1" fill="#006200"/>
<rect x="378" y="448" width="1" height="56" fill="#006a00"/>
<rect x="376" y="448" width="5" height="32" fill="url(#cg)"/>
<rect x="376" y="448" width="1" height="32" fill="#008a00"/>
<rect x="380" y="448" width="1" height="32" fill="#003c00"/>
<rect x="376" y="448" width="5" height="1" fill="#006200"/>
<rect x="376" y="479" width="5" height="1" fill="#006200"/>
<rect x="384" y="407" width="1" height="38" fill="#006a00"/>
<rect x="382" y="407" width="5" height="37" fill="url(#cg)"/>
<rect x="382" y="407" width="1" height="37" fill="#008a00"/>
<rect x="386" y="407" width="1" height="37" fill="#003c00"/>
<rect x="382" y="407" width="5" height="1" fill="#006200"/>
<rect x="382" y="443" width="5" height="1" fill="#006200"/>
<rect x="390" y="383" width="1" height="38" fill="#8a0000"/>
<rect x="388" y="396" width="5" height="17" fill="url(#cr)"/>
<rect x="388" y="396" width="1" height="17" fill="#a00000"/>
<rect x="392" y="396" width="1" height="17" fill="#3c0000"/>
<rect x="388" y="396" width="5" height="1" fill="#6a0000"/>
<rect x="388" y="412" width="5" height="1" fill="#6a0000"/>
<rect x="396" y="404" width="1" height="14" fill="#8a0000"/>
<rect x="394" y="404" width="5" height="9" fill="url(#cr)"/>
<rect x="394" y="404" width="1" height="9" fill="#a00000"/>
<rect x="398" y="404" width="1" height="9" fill="#3c0000"/>
<rect x="394" y="404" width="5" height="1" fill="#6a0000"/>
<rect x="394" y="412" width="5" height="1" fill="#6a0000"/>
<rect x="402" y="391" width="1" height="25" fill="#006a00"/>
<rect x="400" y="392" width="5" height="11" fill="url(#cg)"/>
<rect x="400" y="392" width="1" height="11" fill="#008a00"/>
<rect x="404" y="392" width="1" height="11" fill="#003c00"/>
<rect x="400" y="392" width="5" height="1" fill="#006200"/>
<rect x="400" y="402" width="5" height="1" fill="#006200"/>
<rect x="408" y="385" width="1" height="27" fill="#8a0000"/>
<rect x="406" y="391" width="5" height="4" fill="url(#cr)"/>
<rect x="406" y="391" width="1" height="4" fill="#a00000"/>
<rect x="410" y="391" width="1" height="4" fill="#3c0000"/>
<rect x="406" y="391" width="5" height="1" fill="#6a0000"/>
<rect x="406" y="394" width="5" height="1" fill="#6a0000"/>
<rect x="414" y="405" width="1" height="36" fill="#8a0000"/>
<rect x="412" y="405" width="5" height="29" fill="url(#cr)"/>
<rect x="412" y="405" width="1" height="29" fill="#a00000"/>
<rect x="416" y="405" width="1" height="29" fill="#3c0000"/>
<rect x="412" y="405" width="5" height="1" fill="#6a0000"/>
<rect x="412" y="433" width="5" height="1" fill="#6a0000"/>
<rect x="420" y="424" width="1" height="16" fill="#006a00"/>
<rect x="418" y="434" width="5" height="5" fill="url(#cg)"/>
<rect x="418" y="434" width="1" height="5" fill="#008a00"/>
<rect x="422" y="434" width="1" height="5" fill="#003c00"/>
<rect x="418" y="434" width="5" height="1" fill="#006200"/>
<rect x="418" y="438" width="5" height="1" fill="#006200"/>
<rect x="426" y="402" width="1" height="63" fill="#8a0000"/>
<rect x="424" y="429" width="5" height="35" fill="url(#cr)"/>
<rect x="424" y="429" width="1" height="35" fill="#a00000"/>
<rect x="428" y="429" width="1" height="35" fill="#3c0000"/>
<rect x="424" y="429" width="5" height="1" fill="#6a0000"/>
<rect x="424" y="463" width="5" height="1" fill="#6a0000"/>
<rect x="432" y="399" width="1" height="49" fill="#006a00"/>
<rect x="430" y="399" width="5" height="48" fill="url(#cg)"/>
<rect x="430" y="399" width="1" height="48" fill="#008a00"/>
<rect x="434" y="399" width="1" height="48" fill="#003c00"/>
<rect x="430" y="399" width="5" height="1" fill="#006200"/>
<rect x="430" y="446" width="5" height="1" fill="#006200"/>
<rect x="438" y="366" width="1" height="22" fill="#006a00"/>
<rect x="436" y="369" width="5" height="19" fill="url(#cg)"/>
<rect x="436" y="369" width="1" height="19" fill="#008a00"/>
<rect x="440" y="369" width="1" height="19" fill="#003c00"/>
<rect x="436" y="369" width="5" height="1" fill="#006200"/>
<rect x="436" y="387" width="5" height="1" fill="#006200"/>
<rect x="444" y="362" width="1" height="16" fill="#8a0000"/>
<rect x="442" y="368" width="5" height="4" fill="url(#cr)"/>
<rect x="442" y="368" width="1" height="4" fill="#a00000"/>
<rect x="446" y="368" width="1" height="4" fill="#3c0000"/>
<rect x="442" y="368" width="5" height="1" fill="#6a0000"/>
<rect x="442" y="371" width="5" height="1" fill="#6a0000"/>
<rect x="450" y="352" width="1" height="18" fill="#006a00"/>
<rect x="448" y="361" width="5" height="9" fill="url(#cg)"/>
<rect x="448" y="361" width="1" height="9" fill="#008a00"/>
<rect x="452" y="361" width="1" height="9" fill="#003c00"/>
<rect x="448" y="361" width="5" height="1" fill="#006200"/>
<rect x="448" y="369" width="5" height="1" fill="#006200"/>
<rect x="456" y="342" width="1" height="44" fill="#8a0000"/>
<rect x="454" y="344" width="5" height="20" fill="url(#cr)"/>
<rect x="454" y="344" width="1" height="20" fill="#a00000"/>
<rect x="458" y="344" width="1" height="20" fill="#3c0000"/>
<rect x="454" y="344" width="5" height="1" fill="#6a0000"/>
<rect x="454" y="363" width="5" height="1" fill="#6a0000"/>
<rect x="462" y="354" width="1" height="11" fill="#006a00"/>
<rect x="460" y="354" width="5" height="9" fill="url(#cg)"/>
<rect x="460" y="354" width="1" height="9" fill="#008a00"/>
<rect x="464" y="354" width="1" height="9" fill="#003c00"/>
<rect x="460" y="354" width="5" height="1" fill="#006200"/>
<rect x="460" y="362" width="5" height="1" fill="#006200"/>
<rect x="468" y="328" width="1" height="28" fill="#006a00"/>
<rect x="466" y="340" width="5" height="11" fill="url(#cg)"/>
<rect x="466" y="340" width="1" height="11" fill="#008a00"/>
<rect x="470" y="340" width="1" height="11" fill="#003c00"/>
<rect x="466" y="340" width="5" height="1" fill="#006200"/>
<rect x="466" y="350" width="5" height="1" fill="#006200"/>
<rect x="474" y="331" width="1" height="33" fill="#006a00"/>
<rect x="472" y="331" width="5" height="7" fill="url(#cg)"/>
<rect x="472" y="331" width="1" height="7" fill="#008a00"/>
<rect x="476" y="331" width="1" height="7" fill="#003c00"/>
<rect x="472" y="331" width="5" height="1" fill="#006200"/>
<rect x="472" y="337" width="5" height="1" fill="#006200"/>
<rect x="480" y="300" width="1" height="25" fill="#006a00"/>
<rect x="478" y="308" width="5" height="16" fill="url(#cg)"/>
<rect x="478" y="308" width="1" height="16" fill="#008a00"/>
<rect x="482" y="308" width="1" height="16" fill="#003c00"/>
<rect x="478" y="308" width="5" height="1" fill="#006200"/>
<rect x="478" y="323" width="5" height="1" fill="#006200"/>
<rect x="486" y="317" width="1" height="27" fill="#8a0000"/>
<rect x="484" y="317" width="5" height="22" fill="url(#cr)"/>
<rect x="484" y="317" width="1" height="22" fill="#a00000"/>
<rect x="488" y="317" width="1" height="22" fill="#3c0000"/>
<rect x="484" y="317" width="5" height="1" fill="#6a0000"/>
<rect x="484" y="338" width="5" height="1" fill="#6a0000"/>
<rect x="492" y="325" width="1" height="31" fill="#8a0000"/>
<rect x="490" y="328" width="5" height="10" fill="url(#cr)"/>
<rect x="490" y="328" width="1" height="10" fill="#a00000"/>
<rect x="494" y="328" width="1" height="10" fill="#3c0000"/>
<rect x="490" y="328" width="5" height="1" fill="#6a0000"/>
<rect x="490" y="337" width="5" height="1" fill="#6a0000"/>
<rect x="498" y="304" width="1" height="25" fill="#006a00"/>
<rect x="496" y="305" width="5" height="24" fill="url(#cg)"/>
<rect x="496" y="305" width="1" height="24" fill="#008a00"/>
<rect x="500" y="305" width="1" height="24" fill="#003c00"/>
<rect x="496" y="305" width="5" height="1" fill="#006200"/>
<rect x="496" y="328" width="5" height="1" fill="#006200"/>
<rect x="504" y="307" width="1" height="19" fill="#8a0000"/>
<rect x="502" y="307" width="5" height="11" fill="url(#cr)"/>
<rect x="502" y="307" width="1" height="11" fill="#a00000"/>
<rect x="506" y="307" width="1" height="11" fill="#3c0000"/>
<rect x="502" y="307" width="5" height="1" fill="#6a0000"/>
<rect x="502" y="317" width="5" height="1" fill="#6a0000"/>
<rect x="510" y="320" width="1" height="17" fill="#006a00"/>
<rect x="508" y="320" width="5" height="3" fill="url(#cg)"/>
<rect x="508" y="320" width="1" height="3" fill="#008a00"/>
<rect x="512" y="320" width="1" height="3" fill="#003c00"/>
<rect x="508" y="320" width="5" height="1" fill="#006200"/>
<rect x="508" y="322" width="5" height="1" fill="#006200"/>
<rect x="516" y="303" width="1" height="24" fill="#8a0000"/>
<rect x="514" y="314" width="5" height="9" fill="url(#cr)"/>
<rect x="514" y="314" width="1" height="9" fill="#a00000"/>
<rect x="518" y="314" width="1" height="9" fill="#3c0000"/>
<rect x="514" y="314" width="5" height="1" fill="#6a0000"/>
<rect x="514" y="322" width="5" height="1" fill="#6a0000"/>
<rect x="522" y="325" width="1" height="54" fill="#8a0000"/>
<rect x="520" y="325" width="5" height="50" fill="url(#cr)"/>
<rect x="520" y="325" width="1" height="50" fill="#a00000"/>
<rect x="524" y="325" width="1" height="50" fill="#3c0000"/>
<rect x="520" y="325" width="5" height="1" fill="#6a0000"/>
<rect x="520" y="374" width="5" height="1" fill="#6a0000"/>
<rect x="528" y="355" width="1" height="24" fill="#006a00"/>
<rect x="526" y="357" width="5" height="15" fill="url(#cg)"/>
<rect x="526" y="357" width="1" height="15" fill="#008a00"/>
<rect x="530" y="357" width="1" height="15" fill="#003c00"/>
<rect x="526" y="357" width="5" height="1" fill="#006200"/>
<rect x="526" y="371" width="5" height="1" fill="#006200"/>
<rect x="534" y="345" width="1" height="29" fill="#8a0000"/>
<rect x="532" y="347" width="5" height="20" fill="url(#cr)"/>
<rect x="532" y="347" width="1" height="20" fill="#a00000"/>
<rect x="536" y="347" width="1" height="20" fill="#3c0000"/>
<rect x="532" y="347" width="5" height="1" fill="#6a0000"/>
<rect x="532" y="366" width="5" height="1" fill="#6a0000"/>
<rect x="540" y="338" width="1" height="22" fill="#006a00"/>
<rect x="538" y="345" width="5" height="12" fill="url(#cg)"/>
<rect x="538" y="345" width="1" height="12" fill="#008a00"/>
<rect x="542" y="345" width="1" height="12" fill="#003c00"/>
<rect x="538" y="345" width="5" height="1" fill="#006200"/>
<rect x="538" y="356" width="5" height="1" fill="#006200"/>
<rect x="546" y="326" width="1" height="30" fill="#006a00"/>
<rect x="544" y="334" width="5" height="8" fill="url(#cg)"/>
<rect x="544" y="334" width="1" height="8" fill="#008a00"/>
<rect x="548" y="334" width="1" height="8" fill="#003c00"/>
<rect x="544" y="334" width="5" height="1" fill="#006200"/>
<rect x="544" y="341" width="5" height="1" fill="#006200"/>
<rect x="552" y="320" width="1" height="24" fill="#006a00"/>
<rect x="550" y="320" width="5" height="12" fill="url(#cg)"/>
<rect x="550" y="320" width="1" height="12" fill="#008a00"/>
<rect x="554" y="320" width="1" height="12" fill="#003c00"/>
<rect x="550" y="320" width="5" height="1" fill="#006200"/>
<rect x="550" y="331" width="5" height="1" fill="#006200"/>
<rect x="558" y="299" width="1" height="16" fill="#006a00"/>
<rect x="556" y="299" width="5" height="16" fill="url(#cg)"/>
<rect x="556" y="299" width="1" height="16" fill="#008a00"/>
<rect x="560" y="299" width="1" height="16" fill="#003c00"/>
<rect x="556" y="299" width="5" height="1" fill="#006200"/>
<rect x="556" y="314" width="5" height="1" fill="#006200"/>
<rect x="564" y="291" width="1" height="18" fill="#8a0000"/>
<rect x="562" y="291" width="5" height="14" fill="url(#cr)"/>
<rect x="562" y="291" width="1" height="14" fill="#a00000"/>
<rect x="566" y="291" width="1" height="14" fill="#3c0000"/>
<rect x="562" y="291" width="5" height="1" fill="#6a0000"/>
<rect x="562" y="304" width="5" height="1" fill="#6a0000"/>
<rect x="570" y="302" width="1" height="34" fill="#8a0000"/>
<rect x="568" y="302" width="5" height="34" fill="url(#cr)"/>
<rect x="568" y="302" width="1" height="34" fill="#a00000"/>
<rect x="572" y="302" width="1" height="34" fill="#3c0000"/>
<rect x="568" y="302" width="5" height="1" fill="#6a0000"/>
<rect x="568" y="335" width="5" height="1" fill="#6a0000"/>
<rect x="576" y="322" width="1" height="30" fill="#006a00"/>
<rect x="574" y="324" width="5" height="15" fill="url(#cg)"/>
<rect x="574" y="324" width="1" height="15" fill="#008a00"/>
<rect x="578" y="324" width="1" height="15" fill="#003c00"/>
<rect x="574" y="324" width="5" height="1" fill="#006200"/>
<rect x="574" y="338" width="5" height="1" fill="#006200"/>
<rect x="582" y="307" width="1" height="19" fill="#006a00"/>
<rect x="580" y="313" width="5" height="8" fill="url(#cg)"/>
<rect x="580" y="313" width="1" height="8" fill="#008a00"/>
<rect x="584" y="313" width="1" height="8" fill="#003c00"/>
<rect x="580" y="313" width="5" height="1" fill="#006200"/>
<rect x="580" y="320" width="5" height="1" fill="#006200"/>
<rect x="588" y="309" width="1" height="11" fill="#8a0000"/>
<rect x="586" y="313" width="5" height="3" fill="url(#cr)"/>
<rect x="586" y="313" width="1" height="3" fill="#a00000"/>
<rect x="590" y="313" width="1" height="3" fill="#3c0000"/>
<rect x="586" y="313" width="5" height="1" fill="#6a0000"/>
<rect x="586" y="315" width="5" height="1" fill="#6a0000"/>
<rect x="594" y="311" width="1" height="28" fill="#8a0000"/>
<rect x="592" y="311" width="5" height="28" fill="url(#cr)"/>
<rect x="592" y="311" width="1" height="28" fill="#a00000"/>
<rect x="596" y="311" width="1" height="28" fill="#3c0000"/>
<rect x="592" y="311" width="5" height="1" fill="#6a0000"/>
<rect x="592" y="338" width="5" height="1" fill="#6a0000"/>
<rect x="600" y="335" width="1" height="16" fill="#006a00"/>
<rect x="598" y="338" width="5" height="2" fill="url(#cg)"/>
<rect x="598" y="338" width="5" height="2" fill="#006a00"/>
<rect x="606" y="320" width="1" height="16" fill="#006a00"/>
<rect x="604" y="327" width="5" height="2" fill="url(#cg)"/>
<rect x="604" y="327" width="5" height="2" fill="#006a00"/>
<rect x="612" y="306" width="1" height="21" fill="#8a0000"/>
<rect x="610" y="317" width="5" height="5" fill="url(#cr)"/>
<rect x="610" y="317" width="1" height="5" fill="#a00000"/>
<rect x="614" y="317" width="1" height="5" fill="#3c0000"/>
<rect x="610" y="317" width="5" height="1" fill="#6a0000"/>
<rect x="610" y="321" width="5" height="1" fill="#6a0000"/>
<rect x="618" y="310" width="1" height="14" fill="#006a00"/>
<rect x="616" y="313" width="5" height="3" fill="url(#cg)"/>
<rect x="616" y="313" width="1" height="3" fill="#008a00"/>
<rect x="620" y="313" width="1" height="3" fill="#003c00"/>
<rect x="616" y="313" width="5" height="1" fill="#006200"/>
<rect x="616" y="315" width="5" height="1" fill="#006200"/>
<rect x="624" y="301" width="1" height="27" fill="#006a00"/>
<rect x="622" y="301" width="5" height="12" fill="url(#cg)"/>
<rect x="622" y="301" width="1" height="12" fill="#008a00"/>
<rect x="626" y="301" width="1" height="12" fill="#003c00"/>
<rect x="622" y="301" width="5" height="1" fill="#006200"/>
<rect x="622" y="312" width="5" height="1" fill="#006200"/>
<rect x="630" y="303" width="1" height="24" fill="#8a0000"/>
<rect x="628" y="303" width="5" height="21" fill="url(#cr)"/>
<rect x="628" y="303" width="1" height="21" fill="#a00000"/>
<rect x="632" y="303" width="1" height="21" fill="#3c0000"/>
<rect x="628" y="303" width="5" height="1" fill="#6a0000"/>
<rect x="628" y="323" width="5" height="1" fill="#6a0000"/>
<rect x="636" y="315" width="1" height="16" fill="#8a0000"/>
<rect x="634" y="315" width="5" height="15" fill="url(#cr)"/>
<rect x="634" y="315" width="1" height="15" fill="#a00000"/>
<rect x="638" y="315" width="1" height="15" fill="#3c0000"/>
<rect x="634" y="315" width="5" height="1" fill="#6a0000"/>
<rect x="634" y="329" width="5" height="1" fill="#6a0000"/>
<rect x="642" y="324" width="1" height="37" fill="#8a0000"/>
<rect x="640" y="326" width="5" height="33" fill="url(#cr)"/>
<rect x="640" y="326" width="1" height="33" fill="#a00000"/>
<rect x="644" y="326" width="1" height="33" fill="#3c0000"/>
<rect x="640" y="326" width="5" height="1" fill="#6a0000"/>
<rect x="640" y="358" width="5" height="1" fill="#6a0000"/>
<rect x="648" y="350" width="1" height="15" fill="#8a0000"/>
<rect x="646" y="357" width="5" height="6" fill="url(#cr)"/>
<rect x="646" y="357" width="1" height="6" fill="#a00000"/>
<rect x="650" y="357" width="1" height="6" fill="#3c0000"/>
<rect x="646" y="357" width="5" height="1" fill="#6a0000"/>
<rect x="646" y="362" width="5" height="1" fill="#6a0000"/>
<rect x="654" y="347" width="1" height="17" fill="#006a00"/>
<rect x="652" y="348" width="5" height="16" fill="url(#cg)"/>
<rect x="652" y="348" width="1" height="16" fill="#008a00"/>
<rect x="656" y="348" width="1" height="16" fill="#003c00"/>
<rect x="652" y="348" width="5" height="1" fill="#006200"/>
<rect x="652" y="363" width="5" height="1" fill="#006200"/>
<rect x="660" y="333" width="1" height="21" fill="#8a0000"/>
<rect x="658" y="348" width="5" height="2" fill="url(#cr)"/>
<rect x="658" y="348" width="5" height="2" fill="#8a0000"/>
<rect x="666" y="327" width="1" height="19" fill="#8a0000"/>
<rect x="664" y="340" width="5" height="5" fill="url(#cr)"/>
<rect x="664" y="340" width="1" height="5" fill="#a00000"/>
<rect x="668" y="340" width="1" height="5" fill="#3c0000"/>
<rect x="664" y="340" width="5" height="1" fill="#6a0000"/>
<rect x="664" y="344" width="5" height="1" fill="#6a0000"/>
<rect x="672" y="317" width="1" height="20" fill="#006a00"/>
<rect x="670" y="321" width="5" height="13" fill="url(#cg)"/>
<rect x="670" y="321" width="1" height="13" fill="#008a00"/>
<rect x="674" y="321" width="1" height="13" fill="#003c00"/>
<rect x="670" y="321" width="5" height="1" fill="#006200"/>
<rect x="670" y="333" width="5" height="1" fill="#006200"/>
<rect x="678" y="314" width="1" height="11" fill="#8a0000"/>
<rect x="676" y="318" width="5" height="3" fill="url(#cr)"/>
<rect x="676" y="318" width="1" height="3" fill="#a00000"/>
<rect x="680" y="318" width="1" height="3" fill="#3c0000"/>
<rect x="676" y="318" width="5" height="1" fill="#6a0000"/>
<rect x="676" y="320" width="5" height="1" fill="#6a0000"/>
<rect x="684" y="293" width="1" height="30" fill="#006a00"/>
<rect x="682" y="301" width="5" height="18" fill="url(#cg)"/>
<rect x="682" y="301" width="1" height="18" fill="#008a00"/>
<rect x="686" y="301" width="1" height="18" fill="#003c00"/>
<rect x="682" y="301" width="5" height="1" fill="#006200"/>
<rect x="682" y="318" width="5" height="1" fill="#006200"/>
<rect x="690" y="292" width="1" height="23" fill="#006a00"/>
<rect x="688" y="292" width="5" height="8" fill="url(#cg)"/>
<rect x="688" y="292" width="1" height="8" fill="#008a00"/>
<rect x="692" y="292" width="1" height="8" fill="#003c00"/>
<rect x="688" y="292" width="5" height="1" fill="#006200"/>
<rect x="688" y="299" width="5" height="1" fill="#006200"/>
<rect x="696" y="267" width="1" height="23" fill="#006a00"/>
<rect x="694" y="281" width="5" height="6" fill="url(#cg)"/>
<rect x="694" y="281" width="1" height="6" fill="#008a00"/>
<rect x="698" y="281" width="1" height="6" fill="#003c00"/>
<rect x="694" y="281" width="5" height="1" fill="#006200"/>
<rect x="694" y="286" width="5" height="1" fill="#006200"/>
<rect x="702" y="272" width="1" height="21" fill="#006a00"/>
<rect x="700" y="274" width="5" height="12" fill="url(#cg)"/>
<rect x="700" y="274" width="1" height="12" fill="#008a00"/>
<rect x="704" y="274" width="1" height="12" fill="#003c00"/>
<rect x="700" y="274" width="5" height="1" fill="#006200"/>
<rect x="700" y="285" width="5" height="1" fill="#006200"/>
<rect x="708" y="275" width="1" height="17" fill="#8a0000"/>
<rect x="706" y="275" width="5" height="10" fill="url(#cr)"/>
<rect x="706" y="275" width="1" height="10" fill="#a00000"/>
<rect x="710" y="275" width="1" height="10" fill="#3c0000"/>
<rect x="706" y="275" width="5" height="1" fill="#6a0000"/>
<rect x="706" y="284" width="5" height="1" fill="#6a0000"/>
<rect x="714" y="255" width="1" height="24" fill="#006a00"/>
<rect x="712" y="256" width="5" height="23" fill="url(#cg)"/>
<rect x="712" y="256" width="1" height="23" fill="#008a00"/>
<rect x="716" y="256" width="1" height="23" fill="#003c00"/>
<rect x="712" y="256" width="5" height="1" fill="#006200"/>
<rect x="712" y="278" width="5" height="1" fill="#006200"/>
<rect x="720" y="245" width="1" height="17" fill="#006a00"/>
<rect x="718" y="247" width="5" height="7" fill="url(#cg)"/>
<rect x="718" y="247" width="1" height="7" fill="#008a00"/>
<rect x="722" y="247" width="1" height="7" fill="#003c00"/>
<rect x="718" y="247" width="5" height="1" fill="#006200"/>
<rect x="718" y="253" width="5" height="1" fill="#006200"/>
<rect x="726" y="218" width="1" height="33" fill="#006a00"/>
<rect x="724" y="218" width="5" height="29" fill="url(#cg)"/>
<rect x="724" y="218" width="1" height="29" fill="#008a00"/>
<rect x="728" y="218" width="1" height="29" fill="#003c00"/>
<rect x="724" y="218" width="5" height="1" fill="#006200"/>
<rect x="724" y="246" width="5" height="1" fill="#006200"/>
<rect x="732" y="196" width="1" height="21" fill="#006a00"/>
<rect x="730" y="198" width="5" height="16" fill="url(#cg)"/>
<rect x="730" y="198" width="1" height="16" fill="#008a00"/>
<rect x="734" y="198" width="1" height="16" fill="#003c00"/>
<rect x="730" y="198" width="5" height="1" fill="#006200"/>
<rect x="730" y="213" width="5" height="1" fill="#006200"/>
<rect x="738" y="176" width="1" height="18" fill="#006a00"/>
<rect x="736" y="181" width="5" height="13" fill="url(#cg)"/>
<rect x="736" y="181" width="1" height="13" fill="#008a00"/>
<rect x="740" y="181" width="1" height="13" fill="#003c00"/>
<rect x="736" y="181" width="5" height="1" fill="#006200"/>
<rect x="736" y="193" width="5" height="1" fill="#006200"/>
<rect x="744" y="171" width="1" height="19" fill="#006a00"/>
<rect x="742" y="171" width="5" height="11" fill="url(#cg)"/>
<rect x="742" y="171" width="1" height="11" fill="#008a00"/>
<rect x="746" y="171" width="1" height="11" fill="#003c00"/>
<rect x="742" y="171" width="5" height="1" fill="#006200"/>
<rect x="742" y="181" width="5" height="1" fill="#006200"/>
<rect x="750" y="166" width="1" height="17" fill="#8a0000"/>
<rect x="748" y="167" width="5" height="15" fill="url(#cr)"/>
<rect x="748" y="167" width="1" height="15" fill="#a00000"/>
<rect x="752" y="167" width="1" height="15" fill="#3c0000"/>
<rect x="748" y="167" width="5" height="1" fill="#6a0000"/>
<rect x="748" y="181" width="5" height="1" fill="#6a0000"/>
<rect x="756" y="163" width="1" height="22" fill="#006a00"/>
<rect x="754" y="163" width="5" height="20" fill="url(#cg)"/>
<rect x="754" y="163" width="1" height="20" fill="#008a00"/>
<rect x="758" y="163" width="1" height="20" fill="#003c00"/>
<rect x="754" y="163" width="5" height="1" fill="#006200"/>
<rect x="754" y="182" width="5" height="1" fill="#006200"/>
<rect x="762" y="158" width="1" height="22" fill="#8a0000"/>
<rect x="760" y="161" width="5" height="8" fill="url(#cr)"/>
<rect x="760" y="161" width="1" height="8" fill="#a00000"/>
<rect x="764" y="161" width="1" height="8" fill="#3c0000"/>
<rect x="760" y="161" width="5" height="1" fill="#6a0000"/>
<rect x="760" y="168" width="5" height="1" fill="#6a0000"/>
<rect x="768" y="150" width="1" height="24" fill="#006a00"/>
<rect x="766" y="150" width="5" height="20" fill="url(#cg)"/>
<rect x="766" y="150" width="1" height="20" fill="#008a00"/>
<rect x="770" y="150" width="1" height="20" fill="#003c00"/>
<rect x="766" y="150" width="5" height="1" fill="#006200"/>
<rect x="766" y="169" width="5" height="1" fill="#006200"/>
<rect x="774" y="141" width="1" height="38" fill="#8a0000"/>
<rect x="772" y="146" width="5" height="19" fill="url(#cr)"/>
<rect x="772" y="146" width="1" height="19" fill="#a00000"/>
<rect x="776" y="146" width="1" height="19" fill="#3c0000"/>
<rect x="772" y="146" width="5" height="1" fill="#6a0000"/>
<rect x="772" y="164" width="5" height="1" fill="#6a0000"/>
<rect x="780" y="154" width="1" height="14" fill="#8a0000"/>
<rect x="778" y="158" width="5" height="5" fill="url(#cr)"/>
<rect x="778" y="158" width="1" height="5" fill="#a00000"/>
<rect x="782" y="158" width="1" height="5" fill="#3c0000"/>
<rect x="778" y="158" width="5" height="1" fill="#6a0000"/>
<rect x="778" y="162" width="5" height="1" fill="#6a0000"/>
<rect x="786" y="133" width="1" height="22" fill="#006a00"/>
<rect x="784" y="133" width="5" height="22" fill="url(#cg)"/>
<rect x="784" y="133" width="1" height="22" fill="#008a00"/>
<rect x="788" y="133" width="1" height="22" fill="#003c00"/>
<rect x="784" y="133" width="5" height="1" fill="#006200"/>
<rect x="784" y="154" width="5" height="1" fill="#006200"/>
<rect x="792" y="133" width="1" height="11" fill="#006a00"/>
<rect x="790" y="133" width="5" height="3" fill="url(#cg)"/>
<rect x="790" y="133" width="1" height="3" fill="#008a00"/>
<rect x="794" y="133" width="1" height="3" fill="#003c00"/>
<rect x="790" y="133" width="5" height="1" fill="#006200"/>
<rect x="790" y="135" width="5" height="1" fill="#006200"/>
<rect x="798" y="133" width="1" height="24" fill="#8a0000"/>
<rect x="796" y="133" width="5" height="11" fill="url(#cr)"/>
<rect x="796" y="133" width="1" height="11" fill="#a00000"/>
<rect x="800" y="133" width="1" height="11" fill="#3c0000"/>
<rect x="796" y="133" width="5" height="1" fill="#6a0000"/>
<rect x="796" y="143" width="5" height="1" fill="#6a0000"/>
<rect x="804" y="149" width="1" height="57" fill="#8a0000"/>
<rect x="802" y="149" width="5" height="55" fill="url(#cr)"/>
<rect x="802" y="149" width="1" height="55" fill="#a00000"/>
<rect x="806" y="149" width="1" height="55" fill="#3c0000"/>
<rect x="802" y="149" width="5" height="1" fill="#6a0000"/>
<rect x="802" y="203" width="5" height="1" fill="#6a0000"/>
<rect x="810" y="220" width="1" height="52" fill="#8a0000"/>
<rect x="808" y="220" width="5" height="52" fill="url(#cr)"/>
<rect x="808" y="220" width="1" height="52" fill="#a00000"/>
<rect x="812" y="220" width="1" height="52" fill="#3c0000"/>
<rect x="808" y="220" width="5" height="1" fill="#6a0000"/>
<rect x="808" y="271" width="5" height="1" fill="#6a0000"/>
<rect x="816" y="284" width="1" height="32" fill="#8a0000"/>
<rect x="814" y="285" width="5" height="30" fill="url(#cr)"/>
<rect x="814" y="285" width="1" height="30" fill="#a00000"/>
<rect x="818" y="285" width="1" height="30" fill="#3c0000"/>
<rect x="814" y="285" width="5" height="1" fill="#6a0000"/>
<rect x="814" y="314" width="5" height="1" fill="#6a0000"/>
<rect x="822" y="285" width="1" height="27" fill="#006a00"/>
<rect x="820" y="291" width="5" height="21" fill="url(#cg)"/>
<rect x="820" y="291" width="1" height="21" fill="#008a00"/>
<rect x="824" y="291" width="1" height="21" fill="#003c00"/>
<rect x="820" y="291" width="5" height="1" fill="#006200"/>
<rect x="820" y="311" width="5" height="1" fill="#006200"/>
<rect x="828" y="301" width="1" height="60" fill="#8a0000"/>
<rect x="826" y="301" width="5" height="60" fill="url(#cr)"/>
<rect x="826" y="301" width="1" height="60" fill="#a00000"/>
<rect x="830" y="301" width="1" height="60" fill="#3c0000"/>
<rect x="826" y="301" width="5" height="1" fill="#6a0000"/>
<rect x="826" y="360" width="5" height="1" fill="#6a0000"/>
<rect x="834" y="308" width="1" height="46" fill="#006a00"/>
<rect x="832" y="312" width="5" height="42" fill="url(#cg)"/>
<rect x="832" y="312" width="1" height="42" fill="#008a00"/>
<rect x="836" y="312" width="1" height="42" fill="#003c00"/>
<rect x="832" y="312" width="5" height="1" fill="#006200"/>
<rect x="832" y="353" width="5" height="1" fill="#006200"/>
<rect x="840" y="231" width="1" height="65" fill="#006a00"/>
<rect x="838" y="233" width="5" height="63" fill="url(#cg)"/>
<rect x="838" y="233" width="1" height="63" fill="#008a00"/>
<rect x="842" y="233" width="1" height="63" fill="#003c00"/>
<rect x="838" y="233" width="5" height="1" fill="#006200"/>
<rect x="838" y="295" width="5" height="1" fill="#006200"/>
<rect x="846" y="232" width="1" height="9" fill="#8a0000"/>
<rect x="844" y="233" width="5" height="8" fill="url(#cr)"/>
<rect x="844" y="233" width="1" height="8" fill="#a00000"/>
<rect x="848" y="233" width="1" height="8" fill="#3c0000"/>
<rect x="844" y="233" width="5" height="1" fill="#6a0000"/>
<rect x="844" y="240" width="5" height="1" fill="#6a0000"/>
<rect x="852" y="227" width="1" height="17" fill="#8a0000"/>
<rect x="850" y="235" width="5" height="9" fill="url(#cr)"/>
<rect x="850" y="235" width="1" height="9" fill="#a00000"/>
<rect x="854" y="235" width="1" height="9" fill="#3c0000"/>
<rect x="850" y="235" width="5" height="1" fill="#6a0000"/>
<rect x="850" y="243" width="5" height="1" fill="#6a0000"/>
<rect x="858" y="216" width="1" height="23" fill="#006a00"/>
<rect x="856" y="225" width="5" height="12" fill="url(#cg)"/>
<rect x="856" y="225" width="1" height="12" fill="#008a00"/>
<rect x="860" y="225" width="1" height="12" fill="#003c00"/>
<rect x="856" y="225" width="5" height="1" fill="#006200"/>
<rect x="856" y="236" width="5" height="1" fill="#006200"/>
<rect x="864" y="290" width="1" height="144" fill="#006a00"/>
<rect x="862" y="292" width="5" height="81" fill="url(#cg)"/>
<rect x="862" y="292" width="1" height="81" fill="#008a00"/>
<rect x="866" y="292" width="1" height="81" fill="#003c00"/>
<rect x="862" y="292" width="5" height="1" fill="#006200"/>
<rect x="862" y="372" width="5" height="1" fill="#006200"/>
<rect x="870" y="289" width="1" height="129" fill="#8a0000"/>
<rect x="868" y="289" width="5" height="129" fill="url(#cr)"/>
<rect x="868" y="289" width="1" height="129" fill="#a00000"/>
<rect x="872" y="289" width="1" height="129" fill="#3c0000"/>
<rect x="868" y="289" width="5" height="1" fill="#6a0000"/>
<rect x="868" y="417" width="5" height="1" fill="#6a0000"/>
<rect x="876" y="362" width="1" height="32" fill="#8a0000"/>
<rect x="874" y="375" width="5" height="19" fill="url(#cr)"/>
<rect x="874" y="375" width="1" height="19" fill="#a00000"/>
<rect x="878" y="375" width="1" height="19" fill="#3c0000"/>
<rect x="874" y="375" width="5" height="1" fill="#6a0000"/>
<rect x="874" y="393" width="5" height="1" fill="#6a0000"/>
<rect x="882" y="337" width="1" height="35" fill="#006a00"/>
<rect x="880" y="338" width="5" height="34" fill="url(#cg)"/>
<rect x="880" y="338" width="1" height="34" fill="#008a00"/>
<rect x="884" y="338" width="1" height="34" fill="#003c00"/>
<rect x="880" y="338" width="5" height="1" fill="#006200"/>
<rect x="880" y="371" width="5" height="1" fill="#006200"/>
<rect x="888" y="320" width="1" height="24" fill="#006a00"/>
<rect x="886" y="325" width="5" height="9" fill="url(#cg)"/>
<rect x="886" y="325" width="1" height="9" fill="#008a00"/>
<rect x="890" y="325" width="1" height="9" fill="#003c00"/>
<rect x="886" y="325" width="5" height="1" fill="#006200"/>
<rect x="886" y="333" width="5" height="1" fill="#006200"/>
<rect x="894" y="297" width="1" height="29" fill="#006a00"/>
<rect x="892" y="297" width="5" height="20" fill="url(#cg)"/>
<rect x="892" y="297" width="1" height="20" fill="#008a00"/>
<rect x="896" y="297" width="1" height="20" fill="#003c00"/>
<rect x="892" y="297" width="5" height="1" fill="#006200"/>
<rect x="892" y="316" width="5" height="1" fill="#006200"/>
<rect x="900" y="287" width="1" height="43" fill="#8a0000"/>
<rect x="898" y="290" width="5" height="40" fill="url(#cr)"/>
<rect x="898" y="290" width="1" height="40" fill="#a00000"/>
<rect x="902" y="290" width="1" height="40" fill="#3c0000"/>
<rect x="898" y="290" width="5" height="1" fill="#6a0000"/>
<rect x="898" y="329" width="5" height="1" fill="#6a0000"/>
<rect x="906" y="330" width="1" height="47" fill="#8a0000"/>
<rect x="904" y="330" width="5" height="46" fill="url(#cr)"/>
<rect x="904" y="330" width="1" height="46" fill="#a00000"/>
<rect x="908" y="330" width="1" height="46" fill="#3c0000"/>
<rect x="904" y="330" width="5" height="1" fill="#6a0000"/>
<rect x="904" y="375" width="5" height="1" fill="#6a0000"/>
<rect x="912" y="379" width="1" height="40" fill="#8a0000"/>
<rect x="910" y="381" width="5" height="37" fill="url(#cr)"/>
<rect x="910" y="381" width="1" height="37" fill="#a00000"/>
<rect x="914" y="381" width="1" height="37" fill="#3c0000"/>
<rect x="910" y="381" width="5" height="1" fill="#6a0000"/>
<rect x="910" y="417" width="5" height="1" fill="#6a0000"/>
<rect x="918" y="374" width="1" height="32" fill="#006a00"/>
<rect x="916" y="380" width="5" height="26" fill="url(#cg)"/>
<rect x="916" y="380" width="1" height="26" fill="#008a00"/>
<rect x="920" y="380" width="1" height="26" fill="#003c00"/>
<rect x="916" y="380" width="5" height="1" fill="#006200"/>
<rect x="916" y="405" width="5" height="1" fill="#006200"/>
<rect x="924" y="351" width="1" height="38" fill="#006a00"/>
<rect x="922" y="354" width="5" height="28" fill="url(#cg)"/>
<rect x="922" y="354" width="1" height="28" fill="#008a00"/>
<rect x="926" y="354" width="1" height="28" fill="#003c00"/>
<rect x="922" y="354" width="5" height="1" fill="#006200"/>
<rect x="922" y="381" width="5" height="1" fill="#006200"/>
<rect x="930" y="296" width="1" height="39" fill="#006a00"/>
<rect x="928" y="299" width="5" height="36" fill="url(#cg)"/>
<rect x="928" y="299" width="1" height="36" fill="#008a00"/>
<rect x="932" y="299" width="1" height="36" fill="#003c00"/>
<rect x="928" y="299" width="5" height="1" fill="#006200"/>
<rect x="928" y="334" width="5" height="1" fill="#006200"/>
<rect x="936" y="271" width="1" height="26" fill="#006a00"/>
<rect x="934" y="275" width="5" height="22" fill="url(#cg)"/>
<rect x="934" y="275" width="1" height="22" fill="#008a00"/>
<rect x="938" y="275" width="1" height="22" fill="#003c00"/>
<rect x="934" y="275" width="5" height="1" fill="#006200"/>
<rect x="934" y="296" width="5" height="1" fill="#006200"/>
<rect x="942" y="269" width="1" height="16" fill="#8a0000"/>
<rect x="940" y="269" width="5" height="15" fill="url(#cr)"/>
<rect x="940" y="269" width="1" height="15" fill="#a00000"/>
<rect x="944" y="269" width="1" height="15" fill="#3c0000"/>
<rect x="940" y="269" width="5" height="1" fill="#6a0000"/>
<rect x="940" y="283" width="5" height="1" fill="#6a0000"/>
<rect x="948" y="262" width="1" height="15" fill="#006a00"/>
<rect x="946" y="266" width="5" height="7" fill="url(#cg)"/>
<rect x="946" y="266" width="1" height="7" fill="#008a00"/>
<rect x="950" y="266" width="1" height="7" fill="#003c00"/>
<rect x="946" y="266" width="5" height="1" fill="#006200"/>
<rect x="946" y="272" width="5" height="1" fill="#006200"/>
<rect x="954" y="266" width="1" height="17" fill="#8a0000"/>
<rect x="952" y="268" width="5" height="2" fill="url(#cr)"/>
<rect x="952" y="268" width="5" height="2" fill="#8a0000"/>
<rect x="960" y="253" width="1" height="14" fill="#8a0000"/>
<rect x="958" y="264" width="5" height="2" fill="url(#cr)"/>
<rect x="958" y="264" width="5" height="2" fill="#8a0000"/>
<rect x="966" y="247" width="1" height="24" fill="#006a00"/>
<rect x="964" y="249" width="5" height="14" fill="url(#cg)"/>
<rect x="964" y="249" width="1" height="14" fill="#008a00"/>
<rect x="968" y="249" width="1" height="14" fill="#003c00"/>
<rect x="964" y="249" width="5" height="1" fill="#006200"/>
<rect x="964" y="262" width="5" height="1" fill="#006200"/>
<rect x="972" y="221" width="1" height="27" fill="#006a00"/>
<rect x="970" y="227" width="5" height="16" fill="url(#cg)"/>
<rect x="970" y="227" width="1" height="16" fill="#008a00"/>
<rect x="974" y="227" width="1" height="16" fill="#003c00"/>
<rect x="970" y="227" width="5" height="1" fill="#006200"/>
<rect x="970" y="242" width="5" height="1" fill="#006200"/>
<rect x="978" y="216" width="1" height="20" fill="#8a0000"/>
<rect x="976" y="217" width="5" height="19" fill="url(#cr)"/>
<rect x="976" y="217" width="1" height="19" fill="#a00000"/>
<rect x="980" y="217" width="1" height="19" fill="#3c0000"/>
<rect x="976" y="217" width="5" height="1" fill="#6a0000"/>
<rect x="976" y="235" width="5" height="1" fill="#6a0000"/>
<rect x="984" y="230" width="1" height="21" fill="#8a0000"/>
<rect x="982" y="231" width="5" height="7" fill="url(#cr)"/>
<rect x="982" y="231" width="1" height="7" fill="#a00000"/>
<rect x="986" y="231" width="1" height="7" fill="#3c0000"/>
<rect x="982" y="231" width="5" height="1" fill="#6a0000"/>
<rect x="982" y="237" width="5" height="1" fill="#6a0000"/>
<rect x="990" y="220" width="1" height="19" fill="#006a00"/>
<rect x="988" y="226" width="5" height="11" fill="url(#cg)"/>
<rect x="988" y="226" width="1" height="11" fill="#008a00"/>
<rect x="992" y="226" width="1" height="11" fill="#003c00"/>
<rect x="988" y="226" width="5" height="1" fill="#006200"/>
<rect x="988" y="236" width="5" height="1" fill="#006200"/>
<rect x="996" y="220" width="1" height="13" fill="#8a0000"/>
<rect x="994" y="222" width="5" height="9" fill="url(#cr)"/>
<rect x="994" y="222" width="1" height="9" fill="#a00000"/>
<rect x="998" y="222" width="1" height="9" fill="#3c0000"/>
<rect x="994" y="222" width="5" height="1" fill="#6a0000"/>
<rect x="994" y="230" width="5" height="1" fill="#6a0000"/>
<rect x="1002" y="196" width="1" height="26" fill="#006a00"/>
<rect x="1000" y="196" width="5" height="26" fill="url(#cg)"/>
<rect x="1000" y="196" width="1" height="26" fill="#008a00"/>
<rect x="1004" y="196" width="1" height="26" fill="#003c00"/>
<rect x="1000" y="196" width="5" height="1" fill="#006200"/>
<rect x="1000" y="221" width="5" height="1" fill="#006200"/>
<rect x="1008" y="177" width="1" height="20" fill="#006a00"/>
<rect x="1006" y="183" width="5" height="14" fill="url(#cg)"/>
<rect x="1006" y="183" width="1" height="14" fill="#008a00"/>
<rect x="1010" y="183" width="1" height="14" fill="#003c00"/>
<rect x="1006" y="183" width="5" height="1" fill="#006200"/>
<rect x="1006" y="196" width="5" height="1" fill="#006200"/>
<rect x="1014" y="165" width="1" height="20" fill="#006a00"/>
<rect x="1012" y="165" width="5" height="16" fill="url(#cg)"/>
<rect x="1012" y="165" width="1" height="16" fill="#008a00"/>
<rect x="1016" y="165" width="1" height="16" fill="#003c00"/>
<rect x="1012" y="165" width="5" height="1" fill="#006200"/>
<rect x="1012" y="180" width="5" height="1" fill="#006200"/>
<rect x="1020" y="147" width="1" height="26" fill="#8a0000"/>
<rect x="1018" y="156" width="5" height="9" fill="url(#cr)"/>
<rect x="1018" y="156" width="1" height="9" fill="#a00000"/>
<rect x="1022" y="156" width="1" height="9" fill="#3c0000"/>
<rect x="1018" y="156" width="5" height="1" fill="#6a0000"/>
<rect x="1018" y="164" width="5" height="1" fill="#6a0000"/>
<rect x="1026" y="169" width="1" height="28" fill="#8a0000"/>
<rect x="1024" y="169" width="5" height="23" fill="url(#cr)"/>
<rect x="1024" y="169" width="1" height="23" fill="#a00000"/>
<rect x="1028" y="169" width="1" height="23" fill="#3c0000"/>
<rect x="1024" y="169" width="5" height="1" fill="#6a0000"/>
<rect x="1024" y="191" width="5" height="1" fill="#6a0000"/>
<rect x="1032" y="190" width="1" height="24" fill="#8a0000"/>
<rect x="1030" y="190" width="5" height="18" fill="url(#cr)"/>
<rect x="1030" y="190" width="1" height="18" fill="#a00000"/>
<rect x="1034" y="190" width="1" height="18" fill="#3c0000"/>
<rect x="1030" y="190" width="5" height="1" fill="#6a0000"/>
<rect x="1030" y="207" width="5" height="1" fill="#6a0000"/>
<rect x="1038" y="180" width="1" height="23" fill="#006a00"/>
<rect x="1036" y="187" width="5" height="15" fill="url(#cg)"/>
<rect x="1036" y="187" width="1" height="15" fill="#008a00"/>
<rect x="1040" y="187" width="1" height="15" fill="#003c00"/>
<rect x="1036" y="187" width="5" height="1" fill="#006200"/>
<rect x="1036" y="201" width="5" height="1" fill="#006200"/>
<rect x="1044" y="173" width="1" height="23" fill="#006a00"/>
<rect x="1042" y="173" width="5" height="12" fill="url(#cg)"/>
<rect x="1042" y="173" width="1" height="12" fill="#008a00"/>
<rect x="1046" y="173" width="1" height="12" fill="#003c00"/>
<rect x="1042" y="173" width="5" height="1" fill="#006200"/>
<rect x="1042" y="184" width="5" height="1" fill="#006200"/>
<rect x="1050" y="162" width="1" height="10" fill="#8a0000"/>
<rect x="1048" y="166" width="5" height="5" fill="url(#cr)"/>
<rect x="1048" y="166" width="1" height="5" fill="#a00000"/>
<rect x="1052" y="166" width="1" height="5" fill="#3c0000"/>
<rect x="1048" y="166" width="5" height="1" fill="#6a0000"/>
<rect x="1048" y="170" width="5" height="1" fill="#6a0000"/>
<rect x="1056" y="128" width="1" height="42" fill="#006a00"/>
<rect x="1054" y="128" width="5" height="42" fill="url(#cg)"/>
<rect x="1054" y="128" width="1" height="42" fill="#008a00"/>
<rect x="1058" y="128" width="1" height="42" fill="#003c00"/>
<rect x="1054" y="128" width="5" height="1" fill="#006200"/>
<rect x="1054" y="169" width="5" height="1" fill="#006200"/>
<rect x="1062" y="117" width="1" height="27" fill="#006a00"/>
<rect x="1060" y="118" width="5" height="15" fill="url(#cg)"/>
<rect x="1060" y="118" width="1" height="15" fill="#008a00"/>
<rect x="1064" y="118" width="1" height="15" fill="#003c00"/>
<rect x="1060" y="118" width="5" height="1" fill="#006200"/>
<rect x="1060" y="132" width="5" height="1" fill="#006200"/>
<rect x="1068" y="119" width="1" height="21" fill="#8a0000"/>
<rect x="1066" y="119" width="5" height="11" fill="url(#cr)"/>
<rect x="1066" y="119" width="1" height="11" fill="#a00000"/>
<rect x="1070" y="119" width="1" height="11" fill="#3c0000"/>
<rect x="1066" y="119" width="5" height="1" fill="#6a0000"/>
<rect x="1066" y="129" width="5" height="1" fill="#6a0000"/>
<rect x="1074" y="129" width="1" height="17" fill="#8a0000"/>
<rect x="1072" y="132" width="5" height="9" fill="url(#cr)"/>
<rect x="1072" y="132" width="1" height="9" fill="#a00000"/>
<rect x="1076" y="132" width="1" height="9" fill="#3c0000"/>
<rect x="1072" y="132" width="5" height="1" fill="#6a0000"/>
<rect x="1072" y="140" width="5" height="1" fill="#6a0000"/>
<rect x="1080" y="127" width="1" height="25" fill="#8a0000"/>
<rect x="1078" y="134" width="5" height="16" fill="url(#cr)"/>
<rect x="1078" y="134" width="1" height="16" fill="#a00000"/>
<rect x="1082" y="134" width="1" height="16" fill="#3c0000"/>
<rect x="1078" y="134" width="5" height="1" fill="#6a0000"/>
<rect x="1078" y="149" width="5" height="1" fill="#6a0000"/>
<rect x="1086" y="152" width="1" height="14" fill="#8a0000"/>
<rect x="1084" y="153" width="5" height="13" fill="url(#cr)"/>
<rect x="1084" y="153" width="1" height="13" fill="#a00000"/>
<rect x="1088" y="153" width="1" height="13" fill="#3c0000"/>
<rect x="1084" y="153" width="5" height="1" fill="#6a0000"/>
<rect x="1084" y="165" width="5" height="1" fill="#6a0000"/>
<rect x="1092" y="161" width="1" height="27" fill="#8a0000"/>
<rect x="1090" y="161" width="5" height="24" fill="url(#cr)"/>
<rect x="1090" y="161" width="1" height="24" fill="#a00000"/>
<rect x="1094" y="161" width="1" height="24" fill="#3c0000"/>
<rect x="1090" y="161" width="5" height="1" fill="#6a0000"/>
<rect x="1090" y="184" width="5" height="1" fill="#6a0000"/>
<rect x="1098" y="158" width="1" height="19" fill="#006a00"/>
<rect x="1096" y="169" width="5" height="8" fill="url(#cg)"/>
<rect x="1096" y="169" width="1" height="8" fill="#008a00"/>
<rect x="1100" y="169" width="1" height="8" fill="#003c00"/>
<rect x="1096" y="169" width="5" height="1" fill="#006200"/>
<rect x="1096" y="176" width="5" height="1" fill="#006200"/>
<rect x="1104" y="164" width="1" height="17" fill="#8a0000"/>
<rect x="1102" y="165" width="5" height="10" fill="url(#cr)"/>
<rect x="1102" y="165" width="1" height="10" fill="#a00000"/>
<rect x="1106" y="165" width="1" height="10" fill="#3c0000"/>
<rect x="1102" y="165" width="5" height="1" fill="#6a0000"/>
<rect x="1102" y="174" width="5" height="1" fill="#6a0000"/>
<rect x="1110" y="156" width="1" height="27" fill="#006a00"/>
<rect x="1108" y="171" width="5" height="1" fill="url(#cg)"/>
<rect x="1108" y="171" width="5" height="1" fill="#006a00"/>
<rect x="1116" y="155" width="1" height="13" fill="#006a00"/>
<rect x="1114" y="157" width="5" height="9" fill="url(#cg)"/>
<rect x="1114" y="157" width="1" height="9" fill="#008a00"/>
<rect x="1118" y="157" width="1" height="9" fill="#003c00"/>
<rect x="1114" y="157" width="5" height="1" fill="#006200"/>
<rect x="1114" y="165" width="5" height="1" fill="#006200"/>
<rect x="1122" y="151" width="1" height="15" fill="#8a0000"/>
<rect x="1120" y="157" width="5" height="1" fill="url(#cr)"/>
<rect x="1120" y="157" width="5" height="1" fill="#8a0000"/>
</g>
<g fill="none" stroke="#1a1aff" stroke-width="1.4" stroke-dasharray="4 3">
<polyline points="912.2,420 936.7,270 954.5,282.8 1020.3,146.5 1038.3,206.7 1062,117.5 1092.5,184"/>
</g>
<g fill="none" stroke="#1a1aff" stroke-width="1" stroke-dasharray="4 3"><polyline points="1122.5,163.3 1150,58.3"/></g>
<g fill="none" stroke="#1a1aff" stroke-width="1.4" stroke-dasharray="4 3"><polyline points="1150,58.3 1170,145.7 1188.3,101 1206.7,203.3"/></g>
<path d="M229.2,628.3 C250,735 272,795 298.5,795 C325,795 347,735 367.5,625.8" fill="none" stroke="#2e8b57" stroke-width="5"/>
<text x="42" y="199.5" font-size="14" font-weight="bold" fill="#0000ff" text-anchor="middle">(B)</text>
<text x="294" y="753.0" font-size="14" font-weight="bold" fill="#0000ff" text-anchor="middle">(C)</text>
<text x="792" y="110.0" font-size="14" font-weight="bold" fill="#0000ff" text-anchor="middle">(1)</text>
<text x="864" y="466.0" font-size="14" font-weight="bold" fill="#0000ff" text-anchor="middle">(2)</text>
<text x="1198" y="503.0" font-size="14" font-weight="bold" fill="#0000ff" text-anchor="middle">(2)</text>
<text x="42" y="215.0" font-size="14" font-weight="bold" fill="#ff00ff" text-anchor="middle" textLength="8.0" lengthAdjust="spacingAndGlyphs">E</text>
<text x="132" y="212.0" font-size="14" font-weight="bold" fill="#ff00ff" text-anchor="middle" textLength="6.7" lengthAdjust="spacingAndGlyphs">2</text>
<text x="73" y="393.0" font-size="14" font-weight="bold" fill="#ff00ff" text-anchor="middle" textLength="6.7" lengthAdjust="spacingAndGlyphs">1</text>
<text x="216" y="608.0" font-size="14" font-weight="bold" fill="#ff00ff" text-anchor="middle" textLength="6.7" lengthAdjust="spacingAndGlyphs">3</text>
<text x="258" y="423.0" font-size="14" font-weight="bold" fill="#ff00ff" text-anchor="middle" textLength="6.7" lengthAdjust="spacingAndGlyphs">4</text>
<text x="294" y="737.0" font-size="14" font-weight="bold" fill="#ff00ff" text-anchor="middle" textLength="6.7" lengthAdjust="spacingAndGlyphs">5</text>
<text x="301" y="611.0" font-size="14" font-weight="bold" fill="#ff00ff" text-anchor="middle" textLength="6.7" lengthAdjust="spacingAndGlyphs">1</text>
<text x="306" y="708.0" font-size="14" font-weight="bold" fill="#ff00ff" text-anchor="middle" textLength="6.7" lengthAdjust="spacingAndGlyphs">2</text>
<text x="480" y="277.0" font-size="14" font-weight="bold" fill="#ff00ff" text-anchor="middle" textLength="6.7" lengthAdjust="spacingAndGlyphs">3</text>
<text x="648" y="408.0" font-size="14" font-weight="bold" fill="#ff00ff" text-anchor="middle" textLength="6.7" lengthAdjust="spacingAndGlyphs">4</text>
<text x="792" y="126.0" font-size="14" font-weight="bold" fill="#ff00ff" text-anchor="middle" textLength="6.7" lengthAdjust="spacingAndGlyphs">5</text>
<text x="828" y="378.0" font-size="14" font-weight="bold" fill="#ff00ff" text-anchor="middle" textLength="8.7" lengthAdjust="spacingAndGlyphs">A</text>
<text x="858" y="209.0" font-size="14" font-weight="bold" fill="#ff00ff" text-anchor="middle" textLength="8.7" lengthAdjust="spacingAndGlyphs">B</text>
<text x="864" y="449.0" font-size="14" font-weight="bold" fill="#ff00ff" text-anchor="middle" textLength="8.7" lengthAdjust="spacingAndGlyphs">C</text>
<text x="1150" y="37.0" font-size="14" font-weight="bold" fill="#ff00ff" text-anchor="middle" textLength="6.7" lengthAdjust="spacingAndGlyphs">1</text>
<text x="1206" y="233.0" font-size="14" font-weight="bold" fill="#ff00ff" text-anchor="middle" textLength="6.7" lengthAdjust="spacingAndGlyphs">2</text>
<circle cx="90" cy="235.7" r="6.2" fill="none" stroke="#2e8b57" stroke-width="1"/>
<text class="ser" x="90" y="238.89999999999998" font-size="13" font-weight="bold" fill="#2e8b57" text-anchor="middle">a</text>
<circle cx="132.6" cy="223.2" r="6.2" fill="none" stroke="#2e8b57" stroke-width="1"/>
<text class="ser" x="132.6" y="226.39999999999998" font-size="13" font-weight="bold" fill="#2e8b57" text-anchor="middle">c</text>
<circle cx="108" cy="325.7" r="6.2" fill="none" stroke="#2e8b57" stroke-width="1"/>
<text class="ser" x="108" y="329.9" font-size="13" font-weight="bold" fill="#2e8b57" text-anchor="middle">b</text>
<circle cx="138" cy="303.7" r="6.2" fill="none" stroke="#2e8b57" stroke-width="1"/>
<text class="ser" x="138" y="307.9" font-size="13" font-weight="bold" fill="#2e8b57" text-anchor="middle">i</text>
<circle cx="150" cy="261.7" r="6.2" fill="none" stroke="#2e8b57" stroke-width="1"/>
<text class="ser" x="150" y="265.9" font-size="13" font-weight="bold" fill="#2e8b57" text-anchor="middle">ii</text>
<circle cx="156" cy="413.7" r="6.2" fill="none" stroke="#2e8b57" stroke-width="1"/>
<text class="ser" x="156" y="417.9" font-size="13" font-weight="bold" fill="#2e8b57" text-anchor="middle" textLength="10" lengthAdjust="spacingAndGlyphs">iii</text>
<circle cx="180" cy="337.7" r="6.2" fill="none" stroke="#2e8b57" stroke-width="1"/>
<text class="ser" x="180" y="340.9" font-size="13" font-weight="bold" fill="#2e8b57" text-anchor="middle" textLength="10.5" lengthAdjust="spacingAndGlyphs">iv</text>
<circle cx="216" cy="588.7" r="6.2" fill="none" stroke="#2e8b57" stroke-width="1"/>
<text class="ser" x="216" y="591.9000000000001" font-size="13" font-weight="bold" fill="#2e8b57" text-anchor="middle">v</text>
<circle cx="312" cy="643.7" r="6.2" fill="none" stroke="#2e8b57" stroke-width="1"/>
<text class="ser" x="312" y="647.9000000000001" font-size="13" font-weight="bold" fill="#2e8b57" text-anchor="middle">i</text>
<circle cx="321" cy="687.7" r="6.2" fill="none" stroke="#2e8b57" stroke-width="1"/>
<text class="ser" x="321" y="691.9000000000001" font-size="13" font-weight="bold" fill="#2e8b57" text-anchor="middle">ii</text>
<circle cx="354" cy="434.7" r="6.2" fill="none" stroke="#2e8b57" stroke-width="1"/>
<text class="ser" x="354" y="438.9" font-size="13" font-weight="bold" fill="#2e8b57" text-anchor="middle" textLength="10" lengthAdjust="spacingAndGlyphs">iii</text>
<circle cx="426" cy="487.7" r="6.2" fill="none" stroke="#2e8b57" stroke-width="1"/>
<text class="ser" x="426" y="490.9" font-size="13" font-weight="bold" fill="#2e8b57" text-anchor="middle" textLength="10.5" lengthAdjust="spacingAndGlyphs">iv</text>
<circle cx="480" cy="289.7" r="6.2" fill="none" stroke="#2e8b57" stroke-width="1"/>
<text class="ser" x="480" y="292.9" font-size="13" font-weight="bold" fill="#2e8b57" text-anchor="middle">v</text>
<circle cx="522" cy="403.7" r="6.2" fill="none" stroke="#2e8b57" stroke-width="1"/>
<text class="ser" x="522" y="406.9" font-size="13" font-weight="bold" fill="#2e8b57" text-anchor="middle" textLength="10.5" lengthAdjust="spacingAndGlyphs">w</text>
<circle cx="564" cy="281.7" r="6.2" fill="none" stroke="#2e8b57" stroke-width="1"/>
<text class="ser" x="564" y="284.9" font-size="13" font-weight="bold" fill="#2e8b57" text-anchor="middle">x</text>
<circle cx="648" cy="388.7" r="6.2" fill="none" stroke="#2e8b57" stroke-width="1"/>
<text class="ser" x="648" y="390.9" font-size="13" font-weight="bold" fill="#2e8b57" text-anchor="middle">y</text>
<circle cx="900" cy="276.7" r="6.2" fill="none" stroke="#2e8b57" stroke-width="1"/>
<text class="ser" x="900" y="280.9" font-size="13" font-weight="bold" fill="#2e8b57" text-anchor="middle">i</text>
<circle cx="912" cy="432.7" r="6.2" fill="none" stroke="#2e8b57" stroke-width="1"/>
<text class="ser" x="912" y="436.9" font-size="13" font-weight="bold" fill="#2e8b57" text-anchor="middle">ii</text>
<circle cx="1062" cy="92.7" r="6.2" fill="none" stroke="#2e8b57" stroke-width="1"/>
<text class="ser" x="1062" y="96.9" font-size="13" font-weight="bold" fill="#2e8b57" text-anchor="middle" textLength="10" lengthAdjust="spacingAndGlyphs">iii</text>
<circle cx="1092" cy="190.7" r="6.2" fill="none" stroke="#2e8b57" stroke-width="1"/>
<text class="ser" x="1092" y="193.89999999999998" font-size="13" font-weight="bold" fill="#2e8b57" text-anchor="middle" textLength="10.5" lengthAdjust="spacingAndGlyphs">iv</text>
<circle cx="1150" cy="47.7" r="6.2" fill="none" stroke="#2e8b57" stroke-width="1"/>
<text class="ser" x="1150" y="50.900000000000006" font-size="13" font-weight="bold" fill="#2e8b57" text-anchor="middle">v</text>
<circle cx="1170" cy="158.7" r="6.2" fill="none" stroke="#2e8b57" stroke-width="1"/>
<text class="ser" x="1170" y="161.89999999999998" font-size="13" font-weight="bold" fill="#2e8b57" text-anchor="middle">a</text>
<circle cx="1188" cy="90.7" r="6.2" fill="none" stroke="#2e8b57" stroke-width="1"/>
<text class="ser" x="1188" y="94.9" font-size="13" font-weight="bold" fill="#2e8b57" text-anchor="middle">b</text>
<circle cx="1206" cy="213.7" r="6.2" fill="none" stroke="#2e8b57" stroke-width="1"/>
<text class="ser" x="1206" y="216.89999999999998" font-size="13" font-weight="bold" fill="#2e8b57" text-anchor="middle">c</text>
<circle cx="294" cy="765" r="8" fill="none" stroke="#aaa" stroke-width="1"/><text x="294" y="770" font-size="14" font-weight="bold" fill="#999" text-anchor="middle">4</text>
<text x="390" y="376.9" font-size="11" font-weight="bold" fill="#000" text-anchor="middle">(b)</text>
<text x="426" y="476.9" font-size="11" font-weight="bold" fill="#000" text-anchor="middle">(c)</text>
<text x="354" y="451.9" font-size="11" font-weight="bold" fill="#000" text-anchor="middle">(v)</text>
<text x="336" y="480.9" font-size="11" font-weight="bold" fill="#000" text-anchor="middle">(iii)</text>
<text x="342" y="532.2" font-size="11" font-weight="bold" fill="#000" text-anchor="middle">(iv)</text>
<text x="359" y="545.9" font-size="11" font-weight="bold" fill="#000" text-anchor="middle">(a)</text>
<text x="323" y="553.9" font-size="11" font-weight="bold" fill="#000" text-anchor="middle">(i)</text>
<text x="329" y="604.9" font-size="11" font-weight="bold" fill="#000" text-anchor="middle">(ii)</text>
<text x="491" y="368.9" font-size="11" font-weight="bold" fill="#000" text-anchor="middle">(a)</text>
<text x="516" y="296.9" font-size="11" font-weight="bold" fill="#000" text-anchor="middle">(b)</text>
<text x="522" y="391.9" font-size="11" font-weight="bold" fill="#000" text-anchor="middle">(c)</text>
<text x="575" y="364.9" font-size="11" font-weight="bold" fill="#000" text-anchor="middle">(a)</text>
<text x="624" y="278.9" font-size="11" font-weight="bold" fill="#000" text-anchor="middle">(b)</text>
<text x="647" y="376.9" font-size="11" font-weight="bold" fill="#000" text-anchor="middle">(c)</text>
<text x="936" y="263.9" font-size="11" font-weight="bold" fill="#000" text-anchor="middle">(i)</text>
<text x="954" y="297.9" font-size="11" font-weight="bold" fill="#000" text-anchor="middle">(ii)</text>
<text x="1020" y="139.9" font-size="11" font-weight="bold" fill="#000" text-anchor="middle">(iii)</text>
<text x="1038" y="220.9" font-size="11" font-weight="bold" fill="#000" text-anchor="middle">(iv)</text>
<text x="1061" y="110.9" font-size="11" font-weight="bold" fill="#000" text-anchor="middle">(v)</text>
<text x="581" y="300.1" font-size="12" font-weight="bold" fill="#999" text-anchor="middle">w</text>
<text x="600" y="365.1" font-size="12" font-weight="bold" fill="#999" text-anchor="middle">x</text>
<text x="623" y="293.1" font-size="12" font-weight="bold" fill="#999" text-anchor="middle">y</text>
<text class="ser" x="335.3" y="140.3" font-size="29.33" font-weight="bold" fill="#000" textLength="228" lengthAdjust="spacingAndGlyphs">SDAX Tageschart</text>
<text x="237.2" y="285.2" font-size="18.67" font-weight="bold" fill="#ff0000" textLength="150.5" lengthAdjust="spacingAndGlyphs">Innere Trendlinie</text>
<g font-size="17.5" font-weight="bold" font-style="italic" fill="#0a800a"><text class="ser" x="365.8" y="708" textLength="178.4" lengthAdjust="spacingAndGlyphs">Der große Irrtum des</text><text class="ser" x="365.8" y="732.2" textLength="180" lengthAdjust="spacingAndGlyphs">Mainstreams und der</text><text class="ser" x="366.5" y="755.8" textLength="133.5" lengthAdjust="spacingAndGlyphs">Crashpropheten</text></g>
<rect x="650.5" y="124.7" width="49.5" height="16.5" rx="4" ry="4" fill="#ffff99" stroke="#000" stroke-width="1.4"/>
<text class="ser" x="675.3" y="137.6" font-size="14" font-weight="bold" fill="#000" text-anchor="middle">9484.44</text>
<g stroke="#444" stroke-width="1" shape-rendering="crispEdges">
<polygon points="1231.5,152.5 1238.5,145.5 1287.5,145.5 1287.5,159.5 1238.5,159.5" fill="url(#bl)"/>
<polygon points="1231.5,165.5 1238.5,158.5 1287.5,158.5 1287.5,172.5 1238.5,172.5" fill="url(#rd)"/>
</g>
<text x="1240.5" y="170.5" font-size="12" fill="#000">9361.40</text>
<polygon points="1231.5,157 1238.5,150.5 1287.5,150.5 1287.5,163.5 1238.5,163.5" fill="#fff" stroke="#333" stroke-width="1"/>
<text x="1240.5" y="161.5" font-size="12" fill="#000">9393.85</text>
<g>
<path d="M73,115 C82,100 100,86 131.5,74 C145,70 155,69.5 161,71.5 L170.5,82.5 C180,80 190,78 199,76 C210,72 220,65 228,57.5 L255,106.5 L258,125 L231,150 C215,158 195,162 177,167 C150,174 128,184 112,192 L90.5,150 Z" fill="#555" opacity="0.55" transform="translate(2,2.5)" filter="url(#sh)"/>
<path d="M73,115 C82,100 100,86 131.5,74 C145,70 155,69.5 161,71.5 L170.5,82.5 C180,80 190,78 199,76 C210,72 220,65 228,57.5 L255,106.5 L258,125 L231,150 C215,158 195,162 177,167 C150,174 128,184 112,192 L90.5,150 Z" fill="url(#euf)" stroke="#5a5f78" stroke-width="1.2"/>
<path d="M161,71.5 L170.5,82.5 L196,150 L188,155 Z" fill="#3a44c4" opacity="0.8"/>
<path d="M112,192 L90.5,150 L73,115 L80,112 L118,188 Z" fill="#151950" opacity="0.5"/>
<polygon points="149.0,95.9 149.8,98.3 152.4,98.4 150.4,99.9 151.1,102.4 149.0,100.9 146.9,102.4 147.6,99.9 145.6,98.4 148.2,98.3" fill="#f5b400"/>
<polygon points="161.3,88.7 162.1,91.1 164.7,91.2 162.7,92.7 163.4,95.2 161.3,93.7 159.2,95.2 159.9,92.7 157.9,91.2 160.5,91.1" fill="#f5b400"/>
<polygon points="175.4,88.0 176.2,90.4 178.8,90.5 176.8,92.0 177.5,94.5 175.4,93.0 173.3,94.5 174.0,92.0 172.0,90.5 174.6,90.4" fill="#f5b400"/>
<polygon points="186.9,95.9 187.7,98.3 190.3,98.4 188.3,99.9 189.0,102.4 186.9,100.9 184.8,102.4 185.5,99.9 183.5,98.4 186.1,98.3" fill="#f5b400"/>
<polygon points="193.8,107.8 194.6,110.2 197.2,110.3 195.2,111.8 195.9,114.3 193.8,112.8 191.7,114.3 192.4,111.8 190.4,110.3 193.0,110.2" fill="#f5b400"/>
<polygon points="192.3,121.2 193.1,123.6 195.7,123.7 193.7,125.2 194.4,127.7 192.3,126.2 190.2,127.7 190.9,125.2 188.9,123.7 191.5,123.6" fill="#f5b400"/>
<polygon points="186.9,133.2 187.7,135.6 190.3,135.7 188.3,137.2 189.0,139.7 186.9,138.2 184.8,139.7 185.5,137.2 183.5,135.7 186.1,135.6" fill="#f5b400"/>
<polygon points="143.5,107.8 144.3,110.2 146.9,110.3 144.9,111.8 145.6,114.3 143.5,112.8 141.4,114.3 142.1,111.8 140.1,110.3 142.7,110.2" fill="#f5b400"/>
<text x="76" y="143" font-size="42" textLength="241" lengthAdjust="spacingAndGlyphs" stroke-linejoin="round" stroke-linecap="round" fill="#444" stroke="#444" stroke-width="6.3" opacity="0.45" transform="translate(1.5,2.5)" filter="url(#sh)">elliott wellen</text>
<text x="76" y="143" font-size="42" textLength="241" lengthAdjust="spacingAndGlyphs" stroke-linejoin="round" stroke-linecap="round" fill="#6e5e08" stroke="#6e5e08" stroke-width="4.9">elliott wellen</text>
<text x="76" y="143" font-size="42" textLength="241" lengthAdjust="spacingAndGlyphs" stroke-linejoin="round" stroke-linecap="round" fill="#d8bd2a" stroke="#d8bd2a" stroke-width="2.9000000000000004">elliott wellen</text>
<text x="76" y="143" font-size="42" textLength="241" lengthAdjust="spacingAndGlyphs" stroke-linejoin="round" stroke-linecap="round" fill="url(#ylw)" stroke="url(#ylw)" stroke-width="1.3">elliott wellen</text>
<text x="125" y="172.5" font-size="56" textLength="194" lengthAdjust="spacingAndGlyphs" stroke-linejoin="round" stroke-linecap="round" fill="#444" stroke="#444" stroke-width="6.3" opacity="0.45" transform="translate(1.5,2.5)" filter="url(#sh)">analysen</text>
<text x="125" y="172.5" font-size="56" textLength="194" lengthAdjust="spacingAndGlyphs" stroke-linejoin="round" stroke-linecap="round" fill="#1d5c88" stroke="#1d5c88" stroke-width="4.9">analysen</text>
<text x="125" y="172.5" font-size="56" textLength="194" lengthAdjust="spacingAndGlyphs" stroke-linejoin="round" stroke-linecap="round" fill="#3d98cc" stroke="#3d98cc" stroke-width="2.9000000000000004">analysen</text>
<text x="125" y="172.5" font-size="56" textLength="194" lengthAdjust="spacingAndGlyphs" stroke-linejoin="round" stroke-linecap="round" fill="url(#blu)" stroke="url(#blu)" stroke-width="1.3">analysen</text>
</g>
<g>
<use href="#usp" fill="#555" opacity="0.5" transform="translate(2,3)" filter="url(#sh)"/>
<g clip-path="url(#usclip)">
<rect x="800" y="610" width="200" height="130" fill="#f4f4f4"/>
<polygon points="805.1,642.1 808.2,638.9 811.4,636.2 814.7,633.8 818.0,631.7 821.4,629.9 824.8,628.4 828.2,627.2 831.7,626.2 835.2,625.5 838.7,625.0 842.3,624.7 845.9,624.6 849.5,624.6 853.1,624.8 856.7,625.2 860.4,625.6 864.0,626.1 867.7,626.7 871.3,627.4 875.0,628.1 878.6,628.8 882.3,629.5 885.9,630.1 889.5,630.8 893.1,631.3 896.7,631.7 900.3,632.1 903.8,632.2 907.3,632.3 910.8,632.1 914.3,631.7 917.7,631.1 921.0,630.3 924.3,629.1 927.6,627.7 930.8,625.9 934.0,623.8 937.1,621.3 940.2,618.4 943.5,624.0 940.4,626.8 937.3,629.2 934.1,631.3 930.9,633.0 927.6,634.4 924.3,635.6 920.9,636.4 917.5,637.0 914.0,637.4 910.5,637.6 907.0,637.6 903.4,637.5 899.9,637.2 896.3,636.9 892.6,636.4 889.0,635.9 885.3,635.3 881.7,634.7 878.0,634.1 874.3,633.5 870.7,632.9 867.0,632.4 863.3,631.9 859.7,631.6 856.0,631.3 852.4,631.2 848.8,631.3 845.2,631.4 841.7,631.8 838.1,632.4 834.6,633.2 831.2,634.2 827.7,635.4 824.4,636.9 821.0,638.7 817.7,640.8 814.5,643.2 811.3,645.9 808.2,648.9" fill="#c41826"/>
<polygon points="811.4,655.8 814.4,652.9 817.6,650.2 820.8,647.8 824.0,645.8 827.4,644.0 830.7,642.5 834.1,641.2 837.6,640.1 841.1,639.3 844.6,638.7 848.1,638.2 851.7,638.0 855.3,637.8 859.0,637.9 862.6,638.0 866.3,638.3 870.0,638.6 873.7,639.0 877.3,639.5 881.0,640.0 884.7,640.5 888.4,641.1 892.1,641.6 895.7,642.0 899.4,642.4 903.0,642.7 906.6,642.9 910.2,643.0 913.7,643.0 917.2,642.7 920.7,642.3 924.2,641.7 927.5,640.8 930.9,639.7 934.2,638.3 937.4,636.6 940.6,634.6 943.7,632.2 946.8,629.5 950.1,635.0 947.0,637.7 943.9,640.0 940.7,642.0 937.5,643.7 934.2,645.0 930.8,646.1 927.4,647.0 924.0,647.6 920.5,648.1 916.9,648.3 913.4,648.4 909.8,648.4 906.2,648.2 902.5,648.0 898.8,647.7 895.2,647.3 891.5,646.9 887.8,646.4 884.1,646.0 880.4,645.6 876.7,645.2 873.0,644.9 869.3,644.6 865.6,644.5 861.9,644.4 858.3,644.5 854.7,644.7 851.1,645.0 847.5,645.5 844.0,646.2 840.5,647.1 837.1,648.2 833.7,649.5 830.3,651.0 827.1,652.8 823.8,654.9 820.7,657.2 817.5,659.8 814.5,662.7" fill="#c41826"/>
<polygon points="817.7,669.6 820.7,666.8 823.7,664.2 826.9,661.9 830.1,659.9 833.3,658.1 836.7,656.5 840.0,655.2 843.5,654.0 847.0,653.1 850.5,652.4 854.0,651.8 857.6,651.4 861.2,651.1 864.9,650.9 868.5,650.9 872.2,651.0 875.9,651.1 879.7,651.4 883.4,651.6 887.1,652.0 890.8,652.3 894.5,652.6 898.3,653.0 902.0,653.3 905.6,653.5 909.3,653.7 912.9,653.8 916.6,653.8 920.1,653.7 923.7,653.4 927.2,652.9 930.6,652.3 934.1,651.4 937.4,650.3 940.7,649.0 944.0,647.3 947.2,645.4 950.3,643.2 953.4,640.6 956.7,646.1 953.6,648.6 950.5,650.8 947.3,652.7 944.0,654.3 940.7,655.6 937.3,656.7 933.9,657.6 930.4,658.2 926.9,658.7 923.3,659.0 919.7,659.2 916.1,659.2 912.4,659.2 908.8,659.1 905.1,658.9 901.3,658.7 897.6,658.4 893.9,658.2 890.1,657.9 886.4,657.7 882.7,657.5 878.9,657.4 875.2,657.3 871.5,657.3 867.8,657.5 864.2,657.7 860.6,658.0 857.0,658.5 853.4,659.2 849.9,660.0 846.4,661.0 843.0,662.2 839.6,663.5 836.3,665.1 833.1,666.9 829.9,669.0 826.8,671.2 823.8,673.7 820.8,676.5" fill="#c41826"/>
<polygon points="823.9,683.4 826.9,680.7 829.9,678.2 833.0,676.0 836.1,674.0 839.3,672.2 842.6,670.6 846.0,669.2 849.4,668.0 852.8,666.9 856.3,666.0 859.9,665.3 863.5,664.7 867.1,664.3 870.8,664.0 874.5,663.8 878.2,663.7 881.9,663.6 885.6,663.7 889.4,663.8 893.2,663.9 896.9,664.1 900.7,664.2 904.4,664.4 908.2,664.5 911.9,664.7 915.6,664.7 919.3,664.7 922.9,664.6 926.5,664.4 930.1,664.0 933.7,663.5 937.1,662.8 940.6,662.0 944.0,660.9 947.3,659.6 950.6,658.1 953.8,656.2 956.9,654.1 960.0,651.6 963.2,657.2 960.2,659.6 957.1,661.6 953.9,663.4 950.6,664.9 947.2,666.2 943.8,667.3 940.4,668.1 936.9,668.8 933.3,669.3 929.7,669.7 926.1,670.0 922.4,670.1 918.7,670.2 915.0,670.2 911.3,670.2 907.5,670.1 903.7,670.0 900.0,669.9 896.2,669.9 892.4,669.8 888.6,669.8 884.9,669.9 881.1,670.0 877.4,670.2 873.7,670.5 870.1,670.9 866.4,671.4 862.8,672.1 859.3,672.9 855.8,673.8 852.3,674.9 848.9,676.2 845.6,677.6 842.3,679.2 839.1,681.0 836.0,683.0 832.9,685.2 830.0,687.6 827.1,690.2" fill="#c41826"/>
<polygon points="830.2,697.1 833.1,694.6 836.0,692.2 839.0,690.1 842.1,688.1 845.3,686.3 848.6,684.6 851.9,683.2 855.3,681.9 858.7,680.7 862.2,679.7 865.8,678.9 869.4,678.1 873.0,677.5 876.7,677.0 880.4,676.6 884.1,676.3 887.9,676.1 891.6,676.0 895.4,675.9 899.2,675.8 903.0,675.8 906.8,675.8 910.6,675.8 914.4,675.8 918.1,675.8 921.9,675.7 925.6,675.6 929.3,675.4 932.9,675.1 936.5,674.6 940.1,674.1 943.6,673.4 947.1,672.5 950.5,671.5 953.9,670.2 957.1,668.8 960.4,667.0 963.5,665.0 966.5,662.7 969.8,668.3 966.8,670.5 963.7,672.4 960.4,674.1 957.1,675.6 953.8,676.8 950.4,677.8 946.9,678.7 943.3,679.4 939.8,680.0 936.1,680.4 932.5,680.7 928.8,681.0 925.0,681.2 921.3,681.3 917.5,681.4 913.7,681.5 909.9,681.6 906.1,681.7 902.3,681.8 898.4,681.9 894.6,682.1 890.9,682.4 887.1,682.7 883.3,683.1 879.6,683.6 876.0,684.1 872.3,684.8 868.7,685.6 865.2,686.6 861.7,687.6 858.2,688.8 854.9,690.2 851.5,691.7 848.3,693.3 845.2,695.1 842.1,697.1 839.1,699.2 836.2,701.5 833.4,704.0" fill="#c41826"/>
<polygon points="836.5,710.9 839.3,708.5 842.2,706.2 845.1,704.1 848.2,702.2 851.3,700.4 854.5,698.7 857.8,697.2 861.2,695.8 864.6,694.5 868.1,693.4 871.7,692.4 875.3,691.5 878.9,690.8 882.6,690.1 886.3,689.5 890.1,689.0 893.8,688.6 897.6,688.3 901.5,688.0 905.3,687.8 909.1,687.6 912.9,687.4 916.8,687.2 920.6,687.1 924.4,686.9 928.2,686.7 931.9,686.4 935.6,686.1 939.3,685.8 943.0,685.3 946.6,684.7 950.1,684.0 953.6,683.1 957.1,682.1 960.4,680.9 963.7,679.5 966.9,677.8 970.1,675.9 973.1,673.8 976.4,679.3 973.4,681.4 970.2,683.2 967.0,684.8 963.7,686.2 960.3,687.4 956.9,688.4 953.4,689.3 949.8,690.0 946.2,690.6 942.5,691.1 938.8,691.5 935.1,691.9 931.3,692.2 927.5,692.5 923.7,692.7 919.9,692.9 916.0,693.2 912.2,693.4 908.3,693.7 904.5,694.1 900.6,694.4 896.8,694.9 893.0,695.4 889.3,696.0 885.5,696.6 881.8,697.4 878.2,698.2 874.6,699.2 871.0,700.3 867.6,701.5 864.1,702.8 860.8,704.2 857.5,705.7 854.3,707.4 851.2,709.2 848.2,711.2 845.2,713.2 842.4,715.4 839.7,717.8" fill="#c41826"/>
<polygon points="842.8,724.7 845.5,722.4 848.3,720.2 851.2,718.2 854.2,716.3 857.3,714.5 860.5,712.8 863.7,711.2 867.1,709.7 870.5,708.4 874.0,707.1 877.5,706.0 881.1,704.9 884.8,704.0 888.5,703.1 892.2,702.4 896.0,701.7 899.8,701.1 903.6,700.6 907.5,700.1 911.3,699.7 915.2,699.3 919.1,699.0 922.9,698.7 926.8,698.3 930.6,698.0 934.5,697.7 938.2,697.3 942.0,696.9 945.7,696.4 949.4,695.9 953.0,695.3 956.6,694.5 960.2,693.7 963.6,692.7 967.0,691.5 970.3,690.2 973.5,688.6 976.7,686.9 979.7,684.9 983.0,690.4 980.0,692.3 976.8,694.0 973.6,695.5 970.3,696.8 966.9,698.0 963.4,699.0 959.9,699.8 956.3,700.6 952.6,701.2 948.9,701.8 945.2,702.3 941.4,702.8 937.6,703.2 933.8,703.6 929.9,704.0 926.0,704.4 922.1,704.8 918.3,705.2 914.4,705.7 910.5,706.2 906.6,706.7 902.8,707.4 899.0,708.1 895.2,708.8 891.4,709.7 887.7,710.6 884.1,711.6 880.5,712.7 876.9,714.0 873.4,715.3 870.0,716.7 866.7,718.2 863.4,719.8 860.3,721.5 857.2,723.3 854.2,725.2 851.4,727.2 848.6,729.3 846.0,731.5" fill="#c41826"/>
<polygon points="805.1,642.1 808.2,638.9 811.4,636.2 814.7,633.8 818.0,631.7 821.4,629.9 824.8,628.4 828.2,627.2 831.7,626.2 835.2,625.5 838.7,625.0 842.3,624.7 845.9,624.6 849.5,624.6 853.1,624.8 856.7,625.2 860.4,625.6 879.7,666.8 875.9,667.0 872.3,667.2 868.6,667.6 865.0,668.1 861.4,668.7 857.8,669.5 854.3,670.4 850.9,671.4 847.4,672.7 844.1,674.1 840.8,675.7 837.6,677.5 834.5,679.5 831.4,681.7 828.4,684.1 825.5,686.8" fill="#2c3e9e"/>
<circle cx="811.0" cy="641.6" r="1.25" fill="#fff"/>
<circle cx="819.4" cy="635.5" r="1.25" fill="#fff"/>
<circle cx="828.1" cy="631.4" r="1.25" fill="#fff"/>
<circle cx="837.0" cy="629.0" r="1.25" fill="#fff"/>
<circle cx="846.2" cy="628.1" r="1.25" fill="#fff"/>
<circle cx="855.5" cy="628.3" r="1.25" fill="#fff"/>
<circle cx="817.9" cy="644.7" r="1.25" fill="#fff"/>
<circle cx="826.4" cy="639.6" r="1.25" fill="#fff"/>
<circle cx="835.2" cy="636.4" r="1.25" fill="#fff"/>
<circle cx="844.2" cy="634.6" r="1.25" fill="#fff"/>
<circle cx="853.5" cy="634.1" r="1.25" fill="#fff"/>
<circle cx="816.6" cy="654.3" r="1.25" fill="#fff"/>
<circle cx="824.9" cy="648.3" r="1.25" fill="#fff"/>
<circle cx="833.5" cy="644.2" r="1.25" fill="#fff"/>
<circle cx="842.4" cy="641.6" r="1.25" fill="#fff"/>
<circle cx="851.5" cy="640.3" r="1.25" fill="#fff"/>
<circle cx="860.8" cy="640.1" r="1.25" fill="#fff"/>
<circle cx="823.5" cy="657.4" r="1.25" fill="#fff"/>
<circle cx="831.9" cy="652.4" r="1.25" fill="#fff"/>
<circle cx="840.6" cy="649.0" r="1.25" fill="#fff"/>
<circle cx="849.6" cy="647.0" r="1.25" fill="#fff"/>
<circle cx="858.8" cy="646.1" r="1.25" fill="#fff"/>
<circle cx="822.3" cy="666.9" r="1.25" fill="#fff"/>
<circle cx="830.4" cy="661.1" r="1.25" fill="#fff"/>
<circle cx="838.9" cy="656.9" r="1.25" fill="#fff"/>
<circle cx="847.7" cy="654.1" r="1.25" fill="#fff"/>
<circle cx="856.9" cy="652.6" r="1.25" fill="#fff"/>
<circle cx="866.2" cy="652.0" r="1.25" fill="#fff"/>
<circle cx="829.0" cy="670.2" r="1.25" fill="#fff"/>
<circle cx="837.3" cy="665.3" r="1.25" fill="#fff"/>
<circle cx="846.0" cy="661.7" r="1.25" fill="#fff"/>
<circle cx="854.9" cy="659.4" r="1.25" fill="#fff"/>
<circle cx="864.2" cy="658.2" r="1.25" fill="#fff"/>
<circle cx="827.9" cy="679.6" r="1.25" fill="#fff"/>
<circle cx="835.9" cy="674.0" r="1.25" fill="#fff"/>
<circle cx="844.3" cy="669.7" r="1.25" fill="#fff"/>
<circle cx="853.1" cy="666.7" r="1.25" fill="#fff"/>
<circle cx="862.2" cy="664.8" r="1.25" fill="#fff"/>
<circle cx="871.6" cy="663.8" r="1.25" fill="#fff"/>
<path d="M880,600 L905,600 L960,740 L935,740 Z" fill="#000" opacity="0.07"/>
</g>
<text x="816.5" y="689" font-size="44" textLength="160" lengthAdjust="spacingAndGlyphs" stroke-linejoin="round" stroke-linecap="round" fill="#444" stroke="#444" stroke-width="6.3" opacity="0.45" transform="translate(1.5,2.5)" filter="url(#sh)">us index</text>
<text x="816.5" y="689" font-size="44" textLength="160" lengthAdjust="spacingAndGlyphs" stroke-linejoin="round" stroke-linecap="round" fill="#6e5e08" stroke="#6e5e08" stroke-width="4.9">us index</text>
<text x="816.5" y="689" font-size="44" textLength="160" lengthAdjust="spacingAndGlyphs" stroke-linejoin="round" stroke-linecap="round" fill="#d8bd2a" stroke="#d8bd2a" stroke-width="2.9000000000000004">us index</text>
<text x="816.5" y="689" font-size="44" textLength="160" lengthAdjust="spacingAndGlyphs" stroke-linejoin="round" stroke-linecap="round" fill="url(#ylw)" stroke="url(#ylw)" stroke-width="1.3">us index</text>
<text x="866.5" y="714.5" font-size="46" textLength="203" lengthAdjust="spacingAndGlyphs" stroke-linejoin="round" stroke-linecap="round" fill="#444" stroke="#444" stroke-width="6.3" opacity="0.45" transform="translate(1.5,2.5)" filter="url(#sh)">daytrader</text>
<text x="866.5" y="714.5" font-size="46" textLength="203" lengthAdjust="spacingAndGlyphs" stroke-linejoin="round" stroke-linecap="round" fill="#1d5c88" stroke="#1d5c88" stroke-width="4.9">daytrader</text>
<text x="866.5" y="714.5" font-size="46" textLength="203" lengthAdjust="spacingAndGlyphs" stroke-linejoin="round" stroke-linecap="round" fill="#3d98cc" stroke="#3d98cc" stroke-width="2.9000000000000004">daytrader</text>
<text x="866.5" y="714.5" font-size="46" textLength="203" lengthAdjust="spacingAndGlyphs" stroke-linejoin="round" stroke-linecap="round" fill="url(#blu)" stroke="url(#blu)" stroke-width="1.3">daytrader</text>
</g>
</svg></body></html>
